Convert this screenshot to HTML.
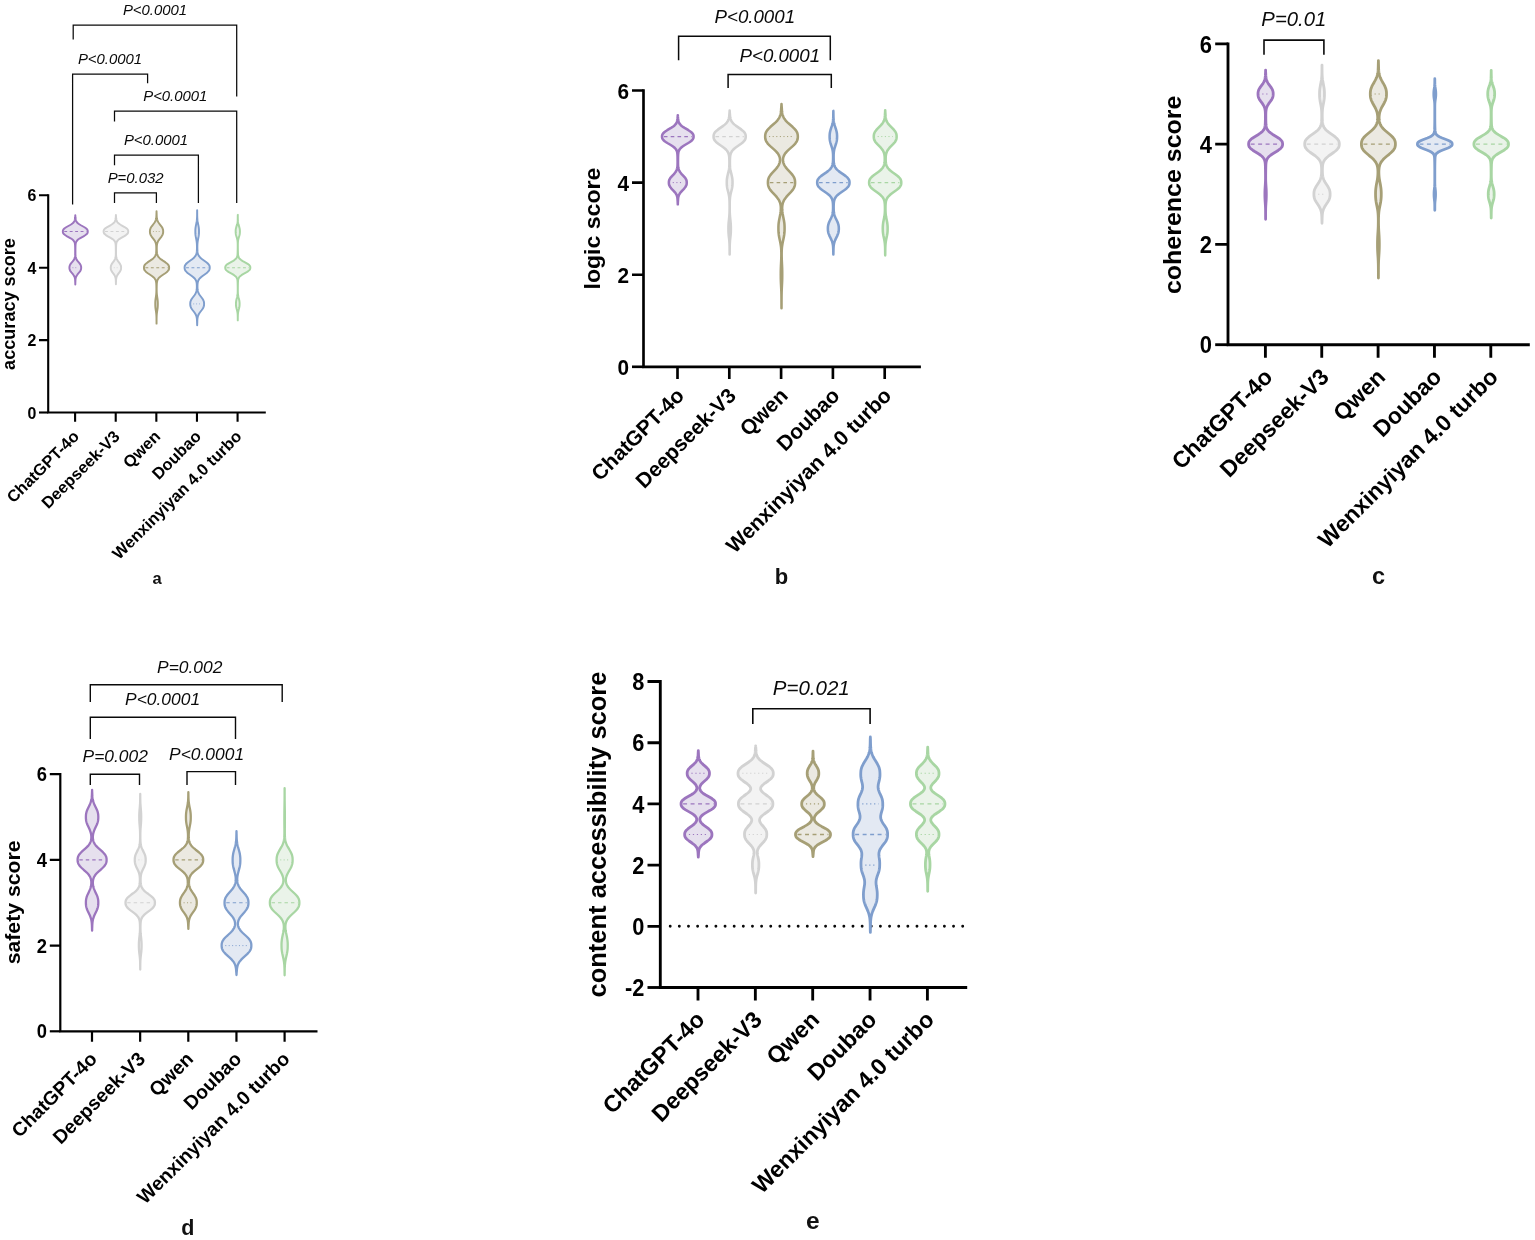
<!DOCTYPE html>
<html lang="en">
<head>
<meta charset="utf-8">
<title>Violin plots of model scores</title>
<style>
html,body{margin:0;padding:0;background:#fff;}
body{width:1535px;height:1240px;overflow:hidden;}
svg{display:block;font-family:"Liberation Sans",sans-serif;}
</style>
</head>
<body>
<svg width="1535" height="1240" viewBox="0 0 1535 1240">
<rect width="1535" height="1240" fill="#fff"/>
<g>
<path d="M75.3 284.5 75.32 283.49 75.35 282.49 75.4 281.48 75.44 280.48 75.51 279.48 75.64 278.47 75.88 277.47 76.26 276.46 76.81 275.46 77.52 274.46 78.35 273.45 79.21 272.45 79.99 271.44 80.59 270.44 80.98 269.43 81.15 268.43 81.17 267.43 81.08 266.42 80.8 265.42 80.29 264.41 79.58 263.41 78.75 262.41 77.89 261.4 77.12 260.4 76.49 259.39 76.04 258.39 75.75 257.38 75.58 256.38 75.49 255.38 75.44 254.37 75.43 253.37 75.42 252.36 75.42 251.36 75.42 250.36 75.43 249.35 75.44 248.35 75.46 247.34 75.49 246.34 75.53 245.33 75.6 244.33 75.75 243.33 76.02 242.32 76.51 241.32 77.29 240.31 78.44 239.31 79.94 238.31 81.69 237.3 83.51 236.3 85.18 235.29 86.49 234.29 87.34 233.28 87.72 232.28 87.77 231.28 87.6 230.27 87.02 229.27 85.96 228.26 84.47 227.26 82.7 226.26 80.89 225.25 79.23 224.25 77.88 223.24 76.9 222.24 76.25 221.23 75.87 220.23 75.66 219.23 75.55 218.22 75.43 217.22 75.35 216.21 75.3 215.21 L75.3 215.21 75.25 216.21 75.17 217.22 75.05 218.22 74.94 219.23 74.73 220.23 74.35 221.23 73.7 222.24 72.72 223.24 71.37 224.25 69.71 225.25 67.9 226.26 66.13 227.26 64.64 228.26 63.58 229.27 63 230.27 62.83 231.28 62.88 232.28 63.26 233.28 64.11 234.29 65.42 235.29 67.09 236.3 68.91 237.3 70.66 238.31 72.16 239.31 73.31 240.31 74.09 241.32 74.58 242.32 74.85 243.33 75 244.33 75.07 245.33 75.11 246.34 75.14 247.34 75.16 248.35 75.17 249.35 75.18 250.36 75.18 251.36 75.18 252.36 75.17 253.37 75.16 254.37 75.11 255.38 75.02 256.38 74.85 257.38 74.56 258.39 74.11 259.39 73.48 260.4 72.71 261.4 71.85 262.41 71.02 263.41 70.31 264.41 69.8 265.42 69.52 266.42 69.43 267.43 69.45 268.43 69.62 269.43 70.01 270.44 70.61 271.44 71.39 272.45 72.25 273.45 73.08 274.46 73.79 275.46 74.34 276.46 74.72 277.47 74.96 278.47 75.09 279.48 75.16 280.48 75.2 281.48 75.25 282.49 75.28 283.49 75.3 284.5Z" fill="#e6e0ee" stroke="#9c75be" stroke-width="1.95" stroke-linejoin="round"/>
<line x1="64.28" y1="231.5" x2="86.32" y2="231.5" stroke="#9c75be" stroke-width="1.04" stroke-dasharray="2.88 2.56"/>
<line x1="72.48" y1="267.7" x2="78.12" y2="267.7" stroke="#9c75be" stroke-width="0.8" stroke-dasharray="0.88 2"/>
<path d="M115.92 284.17 115.94 283.17 115.97 282.17 116.02 281.16 116.06 280.16 116.13 279.16 116.27 278.16 116.51 277.16 116.88 276.15 117.41 275.15 118.07 274.15 118.82 273.15 119.56 272.15 120.22 271.14 120.7 270.14 120.99 269.14 121.09 268.14 121.08 267.14 120.96 266.13 120.65 265.13 120.14 264.13 119.48 263.13 118.73 262.13 117.99 261.12 117.34 260.12 116.83 259.12 116.48 258.12 116.26 257.12 116.14 256.11 116.07 255.11 116.04 254.11 116.03 253.11 116.03 252.11 116.03 251.1 116.04 250.1 116.05 249.1 116.06 248.1 116.08 247.09 116.11 246.09 116.15 245.09 116.24 244.09 116.4 243.09 116.7 242.08 117.24 241.08 118.08 240.08 119.29 239.08 120.83 238.08 122.6 237.07 124.39 236.07 125.98 235.07 127.19 234.07 127.93 233.07 128.22 232.06 128.23 231.06 127.99 230.06 127.31 229.06 126.15 228.06 124.6 227.05 122.82 226.05 121.04 225.05 119.46 224.05 118.21 223.05 117.32 222.04 116.75 221.04 116.42 220.04 116.24 219.04 116.15 218.04 116.04 217.03 115.97 216.03 115.92 215.03 L115.92 215.03 115.87 216.03 115.8 217.03 115.69 218.04 115.6 219.04 115.42 220.04 115.09 221.04 114.52 222.04 113.63 223.05 112.38 224.05 110.8 225.05 109.02 226.05 107.24 227.05 105.69 228.06 104.53 229.06 103.85 230.06 103.61 231.06 103.62 232.06 103.91 233.07 104.65 234.07 105.86 235.07 107.45 236.07 109.24 237.07 111.01 238.08 112.55 239.08 113.76 240.08 114.6 241.08 115.14 242.08 115.44 243.09 115.6 244.09 115.69 245.09 115.73 246.09 115.76 247.09 115.78 248.1 115.79 249.1 115.8 250.1 115.81 251.1 115.81 252.11 115.81 253.11 115.8 254.11 115.77 255.11 115.7 256.11 115.58 257.12 115.36 258.12 115.01 259.12 114.5 260.12 113.85 261.12 113.11 262.13 112.36 263.13 111.7 264.13 111.19 265.13 110.88 266.13 110.76 267.14 110.75 268.14 110.85 269.14 111.14 270.14 111.62 271.14 112.28 272.15 113.02 273.15 113.77 274.15 114.43 275.15 114.96 276.15 115.33 277.16 115.57 278.16 115.71 279.16 115.78 280.16 115.82 281.16 115.87 282.17 115.9 283.17 115.92 284.17Z" fill="#f3f3f3" stroke="#d2d2d2" stroke-width="1.95" stroke-linejoin="round"/>
<line x1="105.05" y1="231.5" x2="126.79" y2="231.5" stroke="#d2d2d2" stroke-width="1.04" stroke-dasharray="2.88 2.56"/>
<line x1="113.8" y1="267.7" x2="118.04" y2="267.7" stroke="#d2d2d2" stroke-width="0.8" stroke-dasharray="0.88 2"/>
<path d="M156.54 323.63 156.55 322.63 156.55 321.62 156.56 320.62 156.57 319.61 156.58 318.61 156.6 317.61 156.63 316.6 156.67 315.6 156.74 314.6 156.83 313.59 156.95 312.59 157.09 311.59 157.24 310.58 157.4 309.58 157.54 308.58 157.65 307.57 157.74 306.57 157.79 305.56 157.81 304.56 157.81 303.56 157.8 302.55 157.76 301.55 157.69 300.55 157.59 299.54 157.46 298.54 157.31 297.54 157.16 296.53 157.02 295.53 156.9 294.53 156.81 293.52 156.74 292.52 156.7 291.51 156.68 290.51 156.67 289.51 156.67 288.5 156.69 287.5 156.7 286.5 156.73 285.49 156.76 284.49 156.82 283.49 156.92 282.48 157.09 281.48 157.37 280.48 157.81 279.47 158.46 278.47 159.36 277.46 160.51 276.46 161.88 275.46 163.37 274.45 164.89 273.45 166.29 272.45 167.46 271.44 168.33 270.44 168.86 269.44 169.08 268.43 169.11 267.43 168.99 266.42 168.61 265.42 167.9 264.42 166.87 263.41 165.56 262.41 164.08 261.41 162.56 260.4 161.13 259.4 159.87 258.4 158.86 257.39 158.1 256.39 157.57 255.39 157.23 254.38 157.02 253.38 156.9 252.37 156.84 251.37 156.8 250.37 156.78 249.36 156.78 248.36 156.79 247.36 156.83 246.35 156.9 245.35 157.03 244.35 157.24 243.34 157.57 242.34 158.02 241.34 158.61 240.33 159.32 239.33 160.1 238.32 160.9 237.32 161.64 236.32 162.26 235.31 162.73 234.31 163.02 233.31 163.15 232.3 163.16 231.3 163.11 230.3 162.92 229.29 162.55 228.29 162.02 227.29 161.34 226.28 160.56 225.28 159.76 224.27 159 223.27 158.33 222.27 157.78 221.26 157.37 220.26 157.08 219.26 156.89 218.25 156.78 217.25 156.71 216.25 156.67 215.24 156.64 214.24 156.6 213.24 156.56 212.23 156.54 211.23 L156.54 211.23 156.52 212.23 156.48 213.24 156.44 214.24 156.41 215.24 156.37 216.25 156.3 217.25 156.19 218.25 156 219.26 155.71 220.26 155.3 221.26 154.75 222.27 154.08 223.27 153.32 224.27 152.52 225.28 151.74 226.28 151.06 227.29 150.53 228.29 150.16 229.29 149.97 230.3 149.92 231.3 149.93 232.3 150.06 233.31 150.35 234.31 150.82 235.31 151.44 236.32 152.18 237.32 152.98 238.32 153.76 239.33 154.47 240.33 155.06 241.34 155.51 242.34 155.84 243.34 156.05 244.35 156.18 245.35 156.25 246.35 156.29 247.36 156.3 248.36 156.3 249.36 156.28 250.37 156.24 251.37 156.18 252.37 156.06 253.38 155.85 254.38 155.51 255.39 154.98 256.39 154.22 257.39 153.21 258.4 151.95 259.4 150.52 260.4 149 261.41 147.52 262.41 146.21 263.41 145.18 264.42 144.47 265.42 144.09 266.42 143.97 267.43 144 268.43 144.22 269.44 144.75 270.44 145.62 271.44 146.79 272.45 148.19 273.45 149.71 274.45 151.2 275.46 152.57 276.46 153.72 277.46 154.62 278.47 155.27 279.47 155.71 280.48 155.99 281.48 156.16 282.48 156.26 283.49 156.32 284.49 156.35 285.49 156.38 286.5 156.39 287.5 156.41 288.5 156.41 289.51 156.4 290.51 156.38 291.51 156.34 292.52 156.27 293.52 156.18 294.53 156.06 295.53 155.92 296.53 155.77 297.54 155.62 298.54 155.49 299.54 155.39 300.55 155.32 301.55 155.28 302.55 155.27 303.56 155.27 304.56 155.29 305.56 155.34 306.57 155.43 307.57 155.54 308.58 155.68 309.58 155.84 310.58 155.99 311.59 156.13 312.59 156.25 313.59 156.34 314.6 156.41 315.6 156.45 316.6 156.48 317.61 156.5 318.61 156.51 319.61 156.52 320.62 156.53 321.62 156.53 322.63 156.54 323.63Z" fill="#ebe9e1" stroke="#a69f76" stroke-width="1.95" stroke-linejoin="round"/>
<line x1="145.42" y1="267.7" x2="167.66" y2="267.7" stroke="#a69f76" stroke-width="1.04" stroke-dasharray="2.88 2.56"/>
<line x1="152.97" y1="231.5" x2="160.11" y2="231.5" stroke="#a69f76" stroke-width="0.8" stroke-dasharray="0.88 2"/>
<path d="M197.16 325.26 197.19 324.26 197.22 323.26 197.27 322.25 197.29 321.25 197.33 320.25 197.4 319.25 197.5 318.25 197.67 317.25 197.92 316.25 198.28 315.25 198.75 314.25 199.35 313.25 200.05 312.24 200.82 311.24 201.6 310.24 202.34 309.24 202.98 308.24 203.48 307.24 203.83 306.24 204.02 305.24 204.08 304.24 204.07 303.24 203.98 302.23 203.74 301.23 203.35 300.23 202.8 299.23 202.13 298.23 201.37 297.23 200.6 296.23 199.85 295.23 199.19 294.23 198.64 293.23 198.22 292.22 197.91 291.22 197.7 290.22 197.58 289.22 197.51 288.22 197.47 287.22 197.47 286.22 197.49 285.22 197.54 284.22 197.64 283.22 197.8 282.21 198.08 281.21 198.5 280.21 199.11 279.21 199.93 278.21 200.98 277.21 202.22 276.21 203.59 275.21 205.01 274.21 206.37 273.21 207.57 272.2 208.52 271.2 209.2 270.2 209.58 269.2 209.73 268.2 209.72 267.2 209.58 266.2 209.19 265.2 208.52 264.2 207.56 263.2 206.36 262.19 205 261.19 203.58 260.19 202.2 259.19 200.96 258.19 199.91 257.19 199.08 256.19 198.46 255.19 198.04 254.19 197.76 253.19 197.58 252.18 197.48 251.18 197.42 250.18 197.38 249.18 197.36 248.18 197.35 247.18 197.35 246.18 197.38 245.18 197.42 244.18 197.49 243.18 197.6 242.17 197.73 241.17 197.9 240.17 198.09 239.17 198.29 238.17 198.48 237.17 198.66 236.17 198.8 235.17 198.9 234.17 198.96 233.17 198.98 232.16 198.98 231.16 198.97 230.16 198.92 229.16 198.82 228.16 198.69 227.16 198.52 226.16 198.33 225.16 198.12 224.16 197.92 223.16 197.74 222.15 197.58 221.15 197.45 220.15 197.36 219.15 197.29 218.15 197.25 217.15 197.22 216.15 197.2 215.15 197.19 214.15 197.19 213.15 197.18 212.14 197.17 211.14 197.16 210.14 L197.16 210.14 197.15 211.14 197.14 212.14 197.13 213.15 197.13 214.15 197.12 215.15 197.1 216.15 197.07 217.15 197.03 218.15 196.96 219.15 196.87 220.15 196.74 221.15 196.58 222.15 196.4 223.16 196.2 224.16 195.99 225.16 195.8 226.16 195.63 227.16 195.5 228.16 195.4 229.16 195.35 230.16 195.34 231.16 195.34 232.16 195.36 233.17 195.42 234.17 195.52 235.17 195.66 236.17 195.84 237.17 196.03 238.17 196.23 239.17 196.42 240.17 196.59 241.17 196.72 242.17 196.83 243.18 196.9 244.18 196.94 245.18 196.97 246.18 196.97 247.18 196.96 248.18 196.94 249.18 196.9 250.18 196.84 251.18 196.74 252.18 196.56 253.19 196.28 254.19 195.86 255.19 195.24 256.19 194.41 257.19 193.36 258.19 192.12 259.19 190.74 260.19 189.32 261.19 187.96 262.19 186.76 263.2 185.8 264.2 185.13 265.2 184.74 266.2 184.6 267.2 184.59 268.2 184.74 269.2 185.12 270.2 185.8 271.2 186.75 272.2 187.95 273.21 189.31 274.21 190.73 275.21 192.1 276.21 193.34 277.21 194.39 278.21 195.21 279.21 195.82 280.21 196.24 281.21 196.52 282.21 196.68 283.22 196.78 284.22 196.83 285.22 196.85 286.22 196.85 287.22 196.81 288.22 196.74 289.22 196.62 290.22 196.41 291.22 196.1 292.22 195.68 293.23 195.13 294.23 194.47 295.23 193.72 296.23 192.95 297.23 192.19 298.23 191.52 299.23 190.97 300.23 190.58 301.23 190.34 302.23 190.25 303.24 190.24 304.24 190.3 305.24 190.49 306.24 190.84 307.24 191.34 308.24 191.98 309.24 192.72 310.24 193.5 311.24 194.27 312.24 194.97 313.25 195.57 314.25 196.04 315.25 196.4 316.25 196.65 317.25 196.82 318.25 196.92 319.25 196.99 320.25 197.03 321.25 197.05 322.25 197.1 323.26 197.13 324.26 197.16 325.26Z" fill="#e3e9f3" stroke="#7f9ecd" stroke-width="1.95" stroke-linejoin="round"/>
<line x1="186.04" y1="267.7" x2="208.28" y2="267.7" stroke="#7f9ecd" stroke-width="1.04" stroke-dasharray="2.88 2.56"/>
<line x1="193.29" y1="303.9" x2="201.03" y2="303.9" stroke="#7f9ecd" stroke-width="0.8" stroke-dasharray="0.88 2"/>
<path d="M237.78 320.37 237.79 319.37 237.8 318.36 237.81 317.36 237.83 316.35 237.86 315.35 237.91 314.34 237.99 313.34 238.13 312.33 238.32 311.33 238.55 310.32 238.82 309.32 239.08 308.31 239.31 307.31 239.47 306.3 239.57 305.3 239.6 304.29 239.6 303.29 239.55 302.28 239.44 301.28 239.26 300.27 239.03 299.27 238.76 298.26 238.5 297.26 238.28 296.25 238.1 295.25 237.98 294.24 237.91 293.24 237.87 292.23 237.85 291.23 237.84 290.22 237.85 289.22 237.85 288.21 237.86 287.21 237.87 286.2 237.89 285.2 237.91 284.19 237.93 283.19 237.97 282.18 238.02 281.18 238.12 280.17 238.31 279.17 238.65 278.16 239.25 277.16 240.17 276.15 241.46 275.15 243.08 274.14 244.9 273.14 246.7 272.13 248.27 271.13 249.43 270.12 250.1 269.12 250.34 268.11 250.33 267.11 250.02 266.1 249.26 265.1 248.02 264.09 246.39 263.09 244.57 262.08 242.77 261.08 241.2 260.07 239.98 259.07 239.12 258.06 238.58 257.06 238.26 256.05 238.1 255.05 238.01 254.04 237.96 253.04 237.93 252.03 237.91 251.03 237.89 250.02 237.87 249.02 237.86 248.01 237.85 247.01 237.85 246 237.85 245 237.86 243.99 237.89 242.99 237.94 241.98 238.04 240.98 238.19 239.97 238.4 238.97 238.67 237.96 238.98 236.96 239.28 235.95 239.55 234.95 239.75 233.94 239.86 232.94 239.9 231.93 239.9 230.93 239.85 229.92 239.72 228.92 239.51 227.91 239.24 226.91 238.93 225.9 238.63 224.9 238.36 223.89 238.15 222.89 238.01 221.88 237.92 220.88 237.86 219.87 237.83 218.87 237.82 217.86 237.8 216.86 237.79 215.85 237.78 214.85 L237.78 214.85 237.77 215.85 237.76 216.86 237.74 217.86 237.73 218.87 237.7 219.87 237.64 220.88 237.55 221.88 237.41 222.89 237.2 223.89 236.93 224.9 236.63 225.9 236.32 226.91 236.05 227.91 235.84 228.92 235.71 229.92 235.66 230.93 235.66 231.93 235.7 232.94 235.81 233.94 236.01 234.95 236.28 235.95 236.58 236.96 236.89 237.96 237.16 238.97 237.37 239.97 237.52 240.98 237.62 241.98 237.67 242.99 237.7 243.99 237.71 245 237.71 246 237.71 247.01 237.7 248.01 237.69 249.02 237.67 250.02 237.65 251.03 237.63 252.03 237.6 253.04 237.55 254.04 237.46 255.05 237.3 256.05 236.98 257.06 236.44 258.06 235.58 259.07 234.36 260.07 232.79 261.08 230.99 262.08 229.17 263.09 227.54 264.09 226.3 265.1 225.54 266.1 225.23 267.11 225.22 268.11 225.46 269.12 226.13 270.12 227.29 271.13 228.86 272.13 230.66 273.14 232.48 274.14 234.1 275.15 235.39 276.15 236.31 277.16 236.91 278.16 237.25 279.17 237.44 280.17 237.54 281.18 237.59 282.18 237.63 283.19 237.65 284.19 237.67 285.2 237.69 286.2 237.7 287.21 237.71 288.21 237.71 289.22 237.72 290.22 237.71 291.23 237.69 292.23 237.65 293.24 237.58 294.24 237.46 295.25 237.28 296.25 237.06 297.26 236.8 298.26 236.53 299.27 236.3 300.27 236.12 301.28 236.01 302.28 235.96 303.29 235.96 304.29 235.99 305.3 236.09 306.3 236.25 307.31 236.48 308.31 236.74 309.32 237.01 310.32 237.24 311.33 237.43 312.33 237.57 313.34 237.65 314.34 237.7 315.35 237.73 316.35 237.75 317.36 237.76 318.36 237.77 319.37 237.78 320.37Z" fill="#eaf3e9" stroke="#a8d6a3" stroke-width="1.95" stroke-linejoin="round"/>
<line x1="226.66" y1="267.7" x2="248.9" y2="267.7" stroke="#a8d6a3" stroke-width="1.04" stroke-dasharray="2.88 2.56"/>
<path d="M48.2 194.25 V412.5 H265.8" fill="none" stroke="#000" stroke-width="2.1" stroke-linejoin="miter"/>
<path d="M39 412.5 H48.2" fill="none" stroke="#000" stroke-width="2.1"/>
<text transform="translate(36.4 418.51) scale(0.95 1)" font-size="16.8" font-weight="bold" text-anchor="end">0</text>
<text transform="translate(36.4 346.11) scale(0.95 1)" font-size="16.8" font-weight="bold" text-anchor="end">2</text>
<text transform="translate(36.4 273.71) scale(0.95 1)" font-size="16.8" font-weight="bold" text-anchor="end">4</text>
<text transform="translate(36.4 201.31) scale(0.95 1)" font-size="16.8" font-weight="bold" text-anchor="end">6</text>
<path d="M39 340.1H48.2M39 267.7H48.2M39 195.3H48.2" fill="none" stroke="#000" stroke-width="2.1"/>
<text transform="translate(80.2 437.5) rotate(-44.8)" font-size="16.45" font-weight="bold" text-anchor="end">ChatGPT-4o</text>
<text transform="translate(120.82 437.5) rotate(-44.8)" font-size="16.45" font-weight="bold" text-anchor="end">Deepseek-V3</text>
<text transform="translate(161.44 437.5) rotate(-44.8)" font-size="16.45" font-weight="bold" text-anchor="end">Qwen</text>
<text transform="translate(202.06 437.5) rotate(-44.8)" font-size="16.45" font-weight="bold" text-anchor="end">Doubao</text>
<text transform="translate(242.68 437.5) rotate(-44.8)" font-size="16.45" font-weight="bold" text-anchor="end">Wenxinyiyan 4.0 turbo</text>
<path d="M75.1 412.5V421.7M115.72 412.5V421.7M156.34 412.5V421.7M196.96 412.5V421.7M237.58 412.5V421.7" fill="none" stroke="#000" stroke-width="2.1"/>
<text transform="translate(15.3 304) rotate(-90) scale(1 1)" font-size="18.1" font-weight="bold" text-anchor="middle">accuracy score</text>
<text x="157" y="583.9" font-size="16.5" font-weight="bold" text-anchor="middle" fill="#111">a</text>
<path d="M73.2 39.4 V25.2 H236.7 V96.5" fill="none" stroke="#0a0a0a" stroke-width="1.25"/>
<text x="155" y="15.3" font-size="14.9" font-style="italic" text-anchor="middle" fill="#0a0a0a">P&lt;0.0001</text>
<path d="M72.6 204.4 V74 H147.6 V83.2" fill="none" stroke="#0a0a0a" stroke-width="1.25"/>
<text x="110" y="64.2" font-size="14.9" font-style="italic" text-anchor="middle" fill="#0a0a0a">P&lt;0.0001</text>
<path d="M114.5 121.6 V111.1 H236.7 V203" fill="none" stroke="#0a0a0a" stroke-width="1.25"/>
<text x="175.3" y="101.3" font-size="14.9" font-style="italic" text-anchor="middle" fill="#0a0a0a">P&lt;0.0001</text>
<path d="M114.5 165.2 V155.2 H198.4 V203" fill="none" stroke="#0a0a0a" stroke-width="1.25"/>
<text x="156" y="145.3" font-size="14.9" font-style="italic" text-anchor="middle" fill="#0a0a0a">P&lt;0.0001</text>
<path d="M114.5 203 V192.9 H156.4 V203" fill="none" stroke="#0a0a0a" stroke-width="1.25"/>
<text x="135.6" y="182.8" font-size="14.9" font-style="italic" text-anchor="middle" fill="#0a0a0a">P=0.032</text>
</g>
<g>
<path d="M677.8 204.34 677.83 203.33 677.87 202.33 677.92 201.33 677.99 200.33 678.05 199.33 678.14 198.33 678.29 197.32 678.52 196.32 678.86 195.32 679.32 194.32 679.93 193.32 680.68 192.31 681.55 191.31 682.49 190.31 683.46 189.31 684.38 188.31 685.19 187.31 685.84 186.3 686.31 185.3 686.59 184.3 686.71 183.3 686.72 182.3 686.66 181.3 686.44 180.29 686.05 179.29 685.47 178.29 684.72 177.29 683.83 176.29 682.88 175.29 681.92 174.28 681.02 173.28 680.22 172.28 679.56 171.28 679.05 170.28 678.67 169.28 678.4 168.27 678.23 167.27 678.12 166.27 678.06 165.27 678.03 164.27 678.01 163.27 678 162.26 678 161.26 678.01 160.26 678.01 159.26 678.03 158.26 678.04 157.25 678.07 156.25 678.11 155.25 678.17 154.25 678.27 153.25 678.43 152.25 678.7 151.24 679.1 150.24 679.7 149.24 680.53 148.24 681.61 147.24 682.93 146.24 684.47 145.23 686.14 144.23 687.85 143.23 689.47 142.23 690.9 141.23 692.04 140.23 692.86 139.22 693.35 138.22 693.55 137.22 693.57 136.22 693.45 135.22 693.06 134.22 692.36 133.21 691.32 132.21 689.98 131.21 688.41 130.21 686.72 129.21 685.02 128.21 683.43 127.2 682.02 126.2 680.85 125.2 679.94 124.2 679.27 123.2 678.8 122.19 678.49 121.19 678.29 120.19 678.16 119.19 678.03 118.19 677.93 117.19 677.85 116.18 677.8 115.18 L677.8 115.18 677.75 116.18 677.67 117.19 677.57 118.19 677.44 119.19 677.31 120.19 677.11 121.19 676.8 122.19 676.33 123.2 675.66 124.2 674.75 125.2 673.58 126.2 672.17 127.2 670.58 128.21 668.88 129.21 667.19 130.21 665.62 131.21 664.28 132.21 663.24 133.21 662.54 134.22 662.15 135.22 662.03 136.22 662.05 137.22 662.25 138.22 662.74 139.22 663.56 140.23 664.7 141.23 666.13 142.23 667.75 143.23 669.46 144.23 671.13 145.23 672.67 146.24 673.99 147.24 675.07 148.24 675.9 149.24 676.5 150.24 676.9 151.24 677.17 152.25 677.33 153.25 677.43 154.25 677.49 155.25 677.53 156.25 677.56 157.25 677.57 158.26 677.59 159.26 677.59 160.26 677.6 161.26 677.6 162.26 677.59 163.27 677.57 164.27 677.54 165.27 677.48 166.27 677.37 167.27 677.2 168.27 676.93 169.28 676.55 170.28 676.04 171.28 675.38 172.28 674.58 173.28 673.68 174.28 672.72 175.29 671.77 176.29 670.88 177.29 670.13 178.29 669.55 179.29 669.16 180.29 668.94 181.3 668.88 182.3 668.89 183.3 669.01 184.3 669.29 185.3 669.76 186.3 670.41 187.31 671.22 188.31 672.14 189.31 673.11 190.31 674.05 191.31 674.92 192.31 675.67 193.32 676.28 194.32 676.74 195.32 677.08 196.32 677.31 197.32 677.46 198.33 677.55 199.33 677.61 200.33 677.68 201.33 677.73 202.33 677.77 203.33 677.8 204.34Z" fill="#e6e0ee" stroke="#9c75be" stroke-width="2.55" stroke-linejoin="round"/>
<line x1="663.9" y1="136.55" x2="691.7" y2="136.55" stroke="#9c75be" stroke-width="1.3" stroke-dasharray="3.6 3.2"/>
<line x1="672.75" y1="182.6" x2="682.85" y2="182.6" stroke="#9c75be" stroke-width="1" stroke-dasharray="1.1 2.5"/>
<path d="M729.65 254.44 729.65 253.43 729.66 252.43 729.67 251.42 729.67 250.41 729.68 249.41 729.69 248.4 729.7 247.39 729.72 246.39 729.74 245.38 729.78 244.37 729.82 243.37 729.88 242.36 729.96 241.36 730.04 240.35 730.14 239.34 730.25 238.34 730.36 237.33 730.47 236.32 730.57 235.32 730.66 234.31 730.74 233.3 730.8 232.3 730.84 231.29 730.86 230.29 730.87 229.28 730.87 228.27 730.87 227.27 730.85 226.26 730.81 225.25 730.76 224.25 730.69 223.24 730.6 222.24 730.5 221.23 730.39 220.22 730.28 219.22 730.18 218.21 730.08 217.2 729.99 216.2 729.91 215.19 729.85 214.18 729.8 213.18 729.77 212.17 729.74 211.17 729.73 210.16 729.72 209.15 729.71 208.15 729.71 207.14 729.71 206.13 729.72 205.13 729.72 204.12 729.74 203.11 729.75 202.11 729.78 201.1 729.83 200.1 729.89 199.09 729.98 198.08 730.09 197.08 730.24 196.07 730.42 195.06 730.63 194.06 730.86 193.05 731.12 192.05 731.37 191.04 731.63 190.03 731.87 189.03 732.07 188.02 732.24 187.01 732.37 186.01 732.46 185 732.51 183.99 732.52 182.99 732.52 181.98 732.5 180.98 732.45 179.97 732.36 178.96 732.22 177.96 732.05 176.95 731.84 175.94 731.6 174.94 731.35 173.93 731.09 172.92 730.85 171.92 730.63 170.91 730.43 169.91 730.27 168.9 730.14 167.89 730.05 166.89 729.98 165.88 729.93 164.87 729.91 163.87 729.9 162.86 729.9 161.85 729.91 160.85 729.94 159.84 729.97 158.84 730.02 157.83 730.11 156.82 730.23 155.82 730.42 154.81 730.69 153.8 731.07 152.8 731.6 151.79 732.29 150.79 733.15 149.78 734.2 148.77 735.42 147.77 736.77 146.76 738.2 145.75 739.65 144.75 741.06 143.74 742.35 142.73 743.46 141.73 744.36 140.72 745.02 139.72 745.45 138.71 745.67 137.7 745.72 136.7 745.7 135.69 745.53 134.68 745.17 133.68 744.58 132.67 743.75 131.66 742.69 130.66 741.44 129.65 740.07 128.65 738.62 127.64 737.17 126.63 735.79 125.63 734.53 124.62 733.43 123.61 732.51 122.61 731.76 121.6 731.19 120.6 730.77 119.59 730.46 118.58 730.25 117.58 730.11 116.57 730.01 115.56 729.95 114.56 729.85 113.55 729.77 112.54 729.7 111.54 729.65 110.53 L729.65 110.53 729.6 111.54 729.53 112.54 729.45 113.55 729.35 114.56 729.29 115.56 729.19 116.57 729.05 117.58 728.84 118.58 728.53 119.59 728.11 120.6 727.54 121.6 726.79 122.61 725.87 123.61 724.77 124.62 723.51 125.63 722.13 126.63 720.68 127.64 719.23 128.65 717.86 129.65 716.61 130.66 715.55 131.66 714.72 132.67 714.13 133.68 713.77 134.68 713.6 135.69 713.58 136.7 713.63 137.7 713.85 138.71 714.28 139.72 714.94 140.72 715.84 141.73 716.95 142.73 718.24 143.74 719.65 144.75 721.1 145.75 722.53 146.76 723.88 147.77 725.1 148.77 726.15 149.78 727.01 150.79 727.7 151.79 728.23 152.8 728.61 153.8 728.88 154.81 729.07 155.82 729.19 156.82 729.28 157.83 729.33 158.84 729.36 159.84 729.39 160.85 729.4 161.85 729.4 162.86 729.39 163.87 729.37 164.87 729.32 165.88 729.25 166.89 729.16 167.89 729.03 168.9 728.87 169.91 728.67 170.91 728.45 171.92 728.21 172.92 727.95 173.93 727.7 174.94 727.46 175.94 727.25 176.95 727.08 177.96 726.94 178.96 726.85 179.97 726.8 180.98 726.78 181.98 726.78 182.99 726.79 183.99 726.84 185 726.93 186.01 727.06 187.01 727.23 188.02 727.43 189.03 727.67 190.03 727.93 191.04 728.18 192.05 728.44 193.05 728.67 194.06 728.88 195.06 729.06 196.07 729.21 197.08 729.32 198.08 729.41 199.09 729.47 200.1 729.52 201.1 729.55 202.11 729.56 203.11 729.58 204.12 729.58 205.13 729.59 206.13 729.59 207.14 729.59 208.15 729.58 209.15 729.57 210.16 729.56 211.17 729.53 212.17 729.5 213.18 729.45 214.18 729.39 215.19 729.31 216.2 729.22 217.2 729.12 218.21 729.02 219.22 728.91 220.22 728.8 221.23 728.7 222.24 728.61 223.24 728.54 224.25 728.49 225.25 728.45 226.26 728.43 227.27 728.43 228.27 728.43 229.28 728.44 230.29 728.46 231.29 728.5 232.3 728.56 233.3 728.64 234.31 728.73 235.32 728.83 236.32 728.94 237.33 729.05 238.34 729.16 239.34 729.26 240.35 729.34 241.36 729.42 242.36 729.48 243.37 729.52 244.37 729.56 245.38 729.58 246.39 729.6 247.39 729.61 248.4 729.62 249.41 729.63 250.41 729.63 251.42 729.64 252.43 729.65 253.43 729.65 254.44Z" fill="#f3f3f3" stroke="#d2d2d2" stroke-width="2.55" stroke-linejoin="round"/>
<line x1="715.45" y1="136.55" x2="743.85" y2="136.55" stroke="#d2d2d2" stroke-width="1.3" stroke-dasharray="3.6 3.2"/>
<path d="M781.5 308.32 781.5 307.32 781.5 306.31 781.51 305.31 781.51 304.31 781.51 303.31 781.51 302.31 781.52 301.31 781.52 300.31 781.52 299.3 781.53 298.3 781.54 297.3 781.55 296.3 781.57 295.3 781.58 294.3 781.61 293.3 781.63 292.29 781.67 291.29 781.7 290.29 781.75 289.29 781.79 288.29 781.84 287.29 781.89 286.29 781.94 285.29 781.99 284.28 782.04 283.28 782.08 282.28 782.12 281.28 782.15 280.28 782.18 279.28 782.2 278.28 782.21 277.27 782.22 276.27 782.22 275.27 782.23 274.27 782.22 273.27 782.22 272.27 782.21 271.27 782.19 270.26 782.17 269.26 782.14 268.26 782.1 267.26 782.06 266.26 782.02 265.26 781.97 264.26 781.92 263.26 781.88 262.25 781.83 261.25 781.79 260.25 781.75 259.25 781.72 258.25 781.69 257.25 781.67 256.25 781.66 255.24 781.65 254.24 781.66 253.24 781.67 252.24 781.7 251.24 781.74 250.24 781.8 249.24 781.87 248.23 781.97 247.23 782.08 246.23 782.22 245.23 782.38 244.23 782.55 243.23 782.75 242.23 782.95 241.23 783.17 240.22 783.38 239.22 783.59 238.22 783.79 237.22 783.97 236.22 784.13 235.22 784.27 234.22 784.38 233.21 784.47 232.21 784.52 231.21 784.56 230.21 784.57 229.21 784.58 228.21 784.57 227.21 784.55 226.2 784.5 225.2 784.43 224.2 784.33 223.2 784.21 222.2 784.06 221.2 783.89 220.2 783.7 219.2 783.5 218.19 783.3 217.19 783.1 216.19 782.91 215.19 782.73 214.19 782.56 213.19 782.43 212.19 782.31 211.18 782.23 210.18 782.18 209.18 782.16 208.18 782.19 207.18 782.26 206.18 782.38 205.18 782.57 204.17 782.82 203.17 783.15 202.17 783.57 201.17 784.08 200.17 784.69 199.17 785.39 198.17 786.18 197.17 787.04 196.16 787.95 195.16 788.9 194.16 789.86 193.16 790.79 192.16 791.67 191.16 792.48 190.16 793.19 189.15 793.79 188.15 794.27 187.15 794.63 186.15 794.88 185.15 795.01 184.15 795.07 183.15 795.07 182.14 795.03 181.14 794.91 180.14 794.69 179.14 794.35 178.14 793.89 177.14 793.31 176.14 792.62 175.14 791.83 174.13 790.96 173.13 790.04 172.13 789.1 171.13 788.17 170.13 787.26 169.13 786.41 168.13 785.64 167.12 784.95 166.12 784.36 165.12 783.87 164.12 783.49 163.12 783.22 162.12 783.04 161.12 782.97 160.11 783 159.11 783.13 158.11 783.37 157.11 783.73 156.11 784.2 155.11 784.79 154.11 785.5 153.11 786.33 152.1 787.26 151.1 788.29 150.1 789.38 149.1 790.51 148.1 791.65 147.1 792.76 146.1 793.81 145.09 794.78 144.09 795.62 143.09 796.34 142.09 796.91 141.09 797.33 140.09 797.61 139.09 797.77 138.09 797.82 137.08 797.82 136.08 797.76 135.08 797.6 134.08 797.32 133.08 796.9 132.08 796.33 131.08 795.62 130.07 794.77 129.07 793.8 128.07 792.74 127.07 791.62 126.07 790.47 125.07 789.32 124.07 788.21 123.06 787.17 122.06 786.21 121.06 785.35 120.06 784.6 119.06 783.97 118.06 783.44 117.06 783.01 116.06 782.68 115.05 782.42 114.05 782.22 113.05 782.07 112.05 781.96 111.05 781.88 110.05 781.83 109.05 781.78 108.04 781.7 107.04 781.62 106.04 781.55 105.04 781.5 104.04 L781.5 104.04 781.45 105.04 781.38 106.04 781.3 107.04 781.22 108.04 781.17 109.05 781.12 110.05 781.04 111.05 780.93 112.05 780.78 113.05 780.58 114.05 780.32 115.05 779.99 116.06 779.56 117.06 779.03 118.06 778.4 119.06 777.65 120.06 776.79 121.06 775.83 122.06 774.79 123.06 773.68 124.07 772.53 125.07 771.38 126.07 770.26 127.07 769.2 128.07 768.23 129.07 767.38 130.07 766.67 131.08 766.1 132.08 765.68 133.08 765.4 134.08 765.24 135.08 765.18 136.08 765.18 137.08 765.23 138.09 765.39 139.09 765.67 140.09 766.09 141.09 766.66 142.09 767.38 143.09 768.22 144.09 769.19 145.09 770.24 146.1 771.35 147.1 772.49 148.1 773.62 149.1 774.71 150.1 775.74 151.1 776.67 152.1 777.5 153.11 778.21 154.11 778.8 155.11 779.27 156.11 779.63 157.11 779.87 158.11 780 159.11 780.03 160.11 779.96 161.12 779.78 162.12 779.51 163.12 779.13 164.12 778.64 165.12 778.05 166.12 777.36 167.12 776.59 168.13 775.74 169.13 774.83 170.13 773.9 171.13 772.96 172.13 772.04 173.13 771.17 174.13 770.38 175.14 769.69 176.14 769.11 177.14 768.65 178.14 768.31 179.14 768.09 180.14 767.97 181.14 767.93 182.14 767.93 183.15 767.99 184.15 768.12 185.15 768.37 186.15 768.73 187.15 769.21 188.15 769.81 189.15 770.52 190.16 771.33 191.16 772.21 192.16 773.14 193.16 774.1 194.16 775.05 195.16 775.96 196.16 776.82 197.17 777.61 198.17 778.31 199.17 778.92 200.17 779.43 201.17 779.85 202.17 780.18 203.17 780.43 204.17 780.62 205.18 780.74 206.18 780.81 207.18 780.84 208.18 780.82 209.18 780.77 210.18 780.69 211.18 780.57 212.19 780.44 213.19 780.27 214.19 780.09 215.19 779.9 216.19 779.7 217.19 779.5 218.19 779.3 219.2 779.11 220.2 778.94 221.2 778.79 222.2 778.67 223.2 778.57 224.2 778.5 225.2 778.45 226.2 778.43 227.21 778.42 228.21 778.43 229.21 778.44 230.21 778.48 231.21 778.53 232.21 778.62 233.21 778.73 234.22 778.87 235.22 779.03 236.22 779.21 237.22 779.41 238.22 779.62 239.22 779.83 240.22 780.05 241.23 780.25 242.23 780.45 243.23 780.62 244.23 780.78 245.23 780.92 246.23 781.03 247.23 781.13 248.23 781.2 249.24 781.26 250.24 781.3 251.24 781.33 252.24 781.34 253.24 781.35 254.24 781.34 255.24 781.33 256.25 781.31 257.25 781.28 258.25 781.25 259.25 781.21 260.25 781.17 261.25 781.12 262.25 781.08 263.26 781.03 264.26 780.98 265.26 780.94 266.26 780.9 267.26 780.86 268.26 780.83 269.26 780.81 270.26 780.79 271.27 780.78 272.27 780.78 273.27 780.77 274.27 780.78 275.27 780.78 276.27 780.79 277.27 780.8 278.28 780.82 279.28 780.85 280.28 780.88 281.28 780.92 282.28 780.96 283.28 781.01 284.28 781.06 285.29 781.11 286.29 781.16 287.29 781.21 288.29 781.25 289.29 781.3 290.29 781.33 291.29 781.37 292.29 781.39 293.3 781.42 294.3 781.43 295.3 781.45 296.3 781.46 297.3 781.47 298.3 781.48 299.3 781.48 300.31 781.48 301.31 781.49 302.31 781.49 303.31 781.49 304.31 781.49 305.31 781.5 306.31 781.5 307.32 781.5 308.32Z" fill="#ebe9e1" stroke="#a69f76" stroke-width="2.55" stroke-linejoin="round"/>
<line x1="769.8" y1="182.6" x2="793.2" y2="182.6" stroke="#a69f76" stroke-width="1.3" stroke-dasharray="3.6 3.2"/>
<line x1="769.05" y1="136.55" x2="793.95" y2="136.55" stroke="#a69f76" stroke-width="1" stroke-dasharray="1.1 2.5"/>
<path d="M833.35 254.44 833.37 253.43 833.39 252.43 833.42 251.43 833.45 250.42 833.47 249.42 833.51 248.42 833.56 247.41 833.63 246.41 833.74 245.4 833.89 244.4 834.09 243.4 834.35 242.39 834.67 241.39 835.05 240.39 835.49 239.38 835.97 238.38 836.46 237.37 836.96 236.37 837.42 235.37 837.84 234.36 838.19 233.36 838.47 232.36 838.66 231.35 838.77 230.35 838.82 229.34 838.82 228.34 838.8 227.34 838.72 226.33 838.56 225.33 838.32 224.33 838 223.32 837.61 222.32 837.17 221.31 836.68 220.31 836.19 219.31 835.71 218.3 835.27 217.3 834.87 216.3 834.54 215.29 834.26 214.29 834.05 213.28 833.9 212.28 833.79 211.28 833.72 210.27 833.68 209.27 833.66 208.26 833.65 207.26 833.66 206.26 833.69 205.25 833.73 204.25 833.79 203.25 833.89 202.24 834.04 201.24 834.26 200.23 834.59 199.23 835.04 198.23 835.65 197.22 836.44 196.22 837.41 195.22 838.56 194.21 839.86 193.21 841.28 192.2 842.74 191.2 844.2 190.2 845.56 189.19 846.77 188.19 847.78 187.19 848.56 186.18 849.09 185.18 849.4 184.17 849.51 183.17 849.52 182.17 849.42 181.16 849.15 180.16 848.64 179.16 847.9 178.15 846.92 177.15 845.73 176.14 844.39 175.14 842.94 174.14 841.47 173.13 840.05 172.13 838.72 171.13 837.55 170.12 836.55 169.12 835.74 168.11 835.11 167.11 834.63 166.11 834.29 165.1 834.05 164.1 833.89 163.1 833.78 162.09 833.71 161.09 833.67 160.08 833.64 159.08 833.62 158.08 833.61 157.07 833.62 156.07 833.64 155.07 833.68 154.06 833.74 153.06 833.84 152.05 833.98 151.05 834.15 150.05 834.37 149.04 834.63 148.04 834.93 147.04 835.25 146.03 835.58 145.03 835.91 144.02 836.22 143.02 836.49 142.02 836.71 141.01 836.88 140.01 836.99 139.01 837.05 138 837.07 137 837.07 135.99 837.04 134.99 836.97 133.99 836.85 132.98 836.67 131.98 836.44 130.98 836.16 129.97 835.85 128.97 835.51 127.96 835.18 126.96 834.85 125.96 834.55 124.95 834.28 123.95 834.06 122.95 833.88 121.94 833.73 120.94 833.63 119.93 833.55 118.93 833.5 117.93 833.46 116.92 833.44 115.92 833.42 114.92 833.4 113.91 833.38 112.91 833.36 111.9 833.35 110.9 L833.35 110.9 833.34 111.9 833.32 112.91 833.3 113.91 833.28 114.92 833.26 115.92 833.24 116.92 833.2 117.93 833.15 118.93 833.07 119.93 832.97 120.94 832.82 121.94 832.64 122.95 832.42 123.95 832.15 124.95 831.85 125.96 831.52 126.96 831.19 127.96 830.85 128.97 830.54 129.97 830.26 130.98 830.03 131.98 829.85 132.98 829.73 133.99 829.66 134.99 829.63 135.99 829.63 137 829.65 138 829.71 139.01 829.82 140.01 829.99 141.01 830.21 142.02 830.48 143.02 830.79 144.02 831.12 145.03 831.45 146.03 831.77 147.04 832.07 148.04 832.33 149.04 832.55 150.05 832.72 151.05 832.86 152.05 832.96 153.06 833.02 154.06 833.06 155.07 833.08 156.07 833.09 157.07 833.08 158.08 833.06 159.08 833.03 160.08 832.99 161.09 832.92 162.09 832.81 163.1 832.65 164.1 832.41 165.1 832.07 166.11 831.59 167.11 830.96 168.11 830.15 169.12 829.15 170.12 827.98 171.13 826.65 172.13 825.23 173.13 823.76 174.14 822.31 175.14 820.97 176.14 819.78 177.15 818.8 178.15 818.06 179.16 817.55 180.16 817.28 181.16 817.18 182.17 817.19 183.17 817.3 184.17 817.61 185.18 818.14 186.18 818.92 187.19 819.93 188.19 821.14 189.19 822.5 190.2 823.96 191.2 825.42 192.2 826.84 193.21 828.14 194.21 829.29 195.22 830.26 196.22 831.05 197.22 831.66 198.23 832.11 199.23 832.44 200.23 832.66 201.24 832.81 202.24 832.91 203.25 832.97 204.25 833.01 205.25 833.04 206.26 833.05 207.26 833.04 208.26 833.02 209.27 832.98 210.27 832.91 211.28 832.8 212.28 832.65 213.28 832.44 214.29 832.16 215.29 831.83 216.3 831.43 217.3 830.99 218.3 830.51 219.31 830.02 220.31 829.53 221.31 829.09 222.32 828.7 223.32 828.38 224.33 828.14 225.33 827.98 226.33 827.9 227.34 827.88 228.34 827.88 229.34 827.93 230.35 828.04 231.35 828.23 232.36 828.51 233.36 828.86 234.36 829.28 235.37 829.74 236.37 830.24 237.37 830.73 238.38 831.21 239.38 831.65 240.39 832.03 241.39 832.35 242.39 832.61 243.4 832.81 244.4 832.96 245.4 833.07 246.41 833.14 247.41 833.19 248.42 833.23 249.42 833.25 250.42 833.28 251.43 833.31 252.43 833.33 253.43 833.35 254.44Z" fill="#e3e9f3" stroke="#7f9ecd" stroke-width="2.55" stroke-linejoin="round"/>
<line x1="819.05" y1="182.6" x2="847.65" y2="182.6" stroke="#7f9ecd" stroke-width="1.3" stroke-dasharray="3.6 3.2"/>
<path d="M885.2 255.36 885.21 254.36 885.22 253.36 885.23 252.35 885.24 251.35 885.25 250.35 885.27 249.35 885.28 248.35 885.31 247.35 885.35 246.35 885.41 245.35 885.48 244.34 885.58 243.34 885.71 242.34 885.86 241.34 886.03 240.34 886.22 239.34 886.43 238.34 886.64 237.33 886.85 236.33 887.05 235.33 887.22 234.33 887.37 233.33 887.48 232.33 887.56 231.33 887.6 230.33 887.62 229.32 887.63 228.32 887.62 227.32 887.58 226.32 887.52 225.32 887.42 224.32 887.3 223.32 887.14 222.31 886.95 221.31 886.76 220.31 886.55 219.31 886.35 218.31 886.16 217.31 885.98 216.31 885.84 215.31 885.71 214.3 885.62 213.3 885.55 212.3 885.5 211.3 885.47 210.3 885.46 209.3 885.46 208.3 885.47 207.29 885.49 206.29 885.53 205.29 885.58 204.29 885.66 203.29 885.79 202.29 885.97 201.29 886.24 200.28 886.61 199.28 887.11 198.28 887.77 197.28 888.59 196.28 889.59 195.28 890.74 194.28 892.03 193.28 893.41 192.27 894.82 191.27 896.2 190.27 897.5 189.27 898.64 188.27 899.6 187.27 900.33 186.27 900.84 185.26 901.14 184.26 901.26 183.26 901.27 182.26 901.2 181.26 900.96 180.26 900.53 179.26 899.87 178.26 898.98 177.25 897.9 176.25 896.65 175.25 895.29 174.25 893.89 173.25 892.49 172.25 891.18 171.25 889.98 170.24 888.94 169.24 888.06 168.24 887.36 167.24 886.82 166.24 886.42 165.24 886.13 164.24 885.93 163.23 885.8 162.23 885.72 161.23 885.68 160.23 885.66 159.23 885.67 158.23 885.7 157.23 885.77 156.23 885.89 155.22 886.06 154.22 886.31 153.22 886.66 152.22 887.12 151.22 887.69 150.22 888.39 149.22 889.2 148.21 890.11 147.21 891.09 146.21 892.08 145.21 893.06 144.21 893.97 143.21 894.78 142.21 895.45 141.21 895.97 140.2 896.33 139.2 896.53 138.2 896.62 137.2 896.62 136.2 896.57 135.2 896.39 134.2 896.08 133.19 895.61 132.19 894.98 131.19 894.2 130.19 893.31 129.19 892.34 128.19 891.34 127.19 890.35 126.18 889.41 125.18 888.55 124.18 887.81 123.18 887.18 122.18 886.68 121.18 886.29 120.18 886 119.18 885.78 118.17 885.63 117.17 885.53 116.17 885.46 115.17 885.42 114.17 885.35 113.17 885.29 112.17 885.24 111.16 885.2 110.16 L885.2 110.16 885.16 111.16 885.11 112.17 885.05 113.17 884.98 114.17 884.94 115.17 884.87 116.17 884.77 117.17 884.62 118.17 884.4 119.18 884.11 120.18 883.72 121.18 883.22 122.18 882.59 123.18 881.85 124.18 880.99 125.18 880.05 126.18 879.06 127.19 878.06 128.19 877.09 129.19 876.2 130.19 875.42 131.19 874.79 132.19 874.32 133.19 874.01 134.2 873.83 135.2 873.78 136.2 873.78 137.2 873.87 138.2 874.07 139.2 874.43 140.2 874.95 141.21 875.62 142.21 876.43 143.21 877.34 144.21 878.32 145.21 879.31 146.21 880.29 147.21 881.2 148.21 882.01 149.22 882.71 150.22 883.28 151.22 883.74 152.22 884.09 153.22 884.34 154.22 884.51 155.22 884.63 156.23 884.7 157.23 884.73 158.23 884.74 159.23 884.72 160.23 884.68 161.23 884.6 162.23 884.47 163.23 884.27 164.24 883.98 165.24 883.58 166.24 883.04 167.24 882.34 168.24 881.46 169.24 880.42 170.24 879.22 171.25 877.91 172.25 876.51 173.25 875.11 174.25 873.75 175.25 872.5 176.25 871.42 177.25 870.53 178.26 869.87 179.26 869.44 180.26 869.2 181.26 869.13 182.26 869.14 183.26 869.26 184.26 869.56 185.26 870.07 186.27 870.8 187.27 871.76 188.27 872.9 189.27 874.2 190.27 875.58 191.27 876.99 192.27 878.37 193.28 879.66 194.28 880.81 195.28 881.81 196.28 882.63 197.28 883.29 198.28 883.79 199.28 884.16 200.28 884.43 201.29 884.61 202.29 884.74 203.29 884.82 204.29 884.87 205.29 884.91 206.29 884.93 207.29 884.94 208.3 884.94 209.3 884.93 210.3 884.9 211.3 884.85 212.3 884.78 213.3 884.69 214.3 884.56 215.31 884.42 216.31 884.24 217.31 884.05 218.31 883.85 219.31 883.64 220.31 883.45 221.31 883.26 222.31 883.1 223.32 882.98 224.32 882.88 225.32 882.82 226.32 882.78 227.32 882.77 228.32 882.78 229.32 882.8 230.33 882.84 231.33 882.92 232.33 883.03 233.33 883.18 234.33 883.35 235.33 883.55 236.33 883.76 237.33 883.97 238.34 884.18 239.34 884.37 240.34 884.54 241.34 884.69 242.34 884.82 243.34 884.92 244.34 884.99 245.35 885.05 246.35 885.09 247.35 885.12 248.35 885.13 249.35 885.15 250.35 885.16 251.35 885.17 252.35 885.18 253.36 885.19 254.36 885.2 255.36Z" fill="#eaf3e9" stroke="#a8d6a3" stroke-width="2.55" stroke-linejoin="round"/>
<line x1="871" y1="182.6" x2="899.4" y2="182.6" stroke="#a8d6a3" stroke-width="1.3" stroke-dasharray="3.6 3.2"/>
<line x1="877.65" y1="136.55" x2="892.75" y2="136.55" stroke="#a8d6a3" stroke-width="1" stroke-dasharray="1.1 2.5"/>
<path d="M643.5 89.18 V366.8 H920.9" fill="none" stroke="#000" stroke-width="2.65" stroke-linejoin="miter"/>
<path d="M632 366.8 H643.5" fill="none" stroke="#000" stroke-width="2.65"/>
<text transform="translate(629 374.89) scale(0.92 1)" font-size="22.6" font-weight="bold" text-anchor="end">0</text>
<text transform="translate(629 282.79) scale(0.92 1)" font-size="22.6" font-weight="bold" text-anchor="end">2</text>
<text transform="translate(629 190.69) scale(0.92 1)" font-size="22.6" font-weight="bold" text-anchor="end">4</text>
<text transform="translate(629 98.59) scale(0.92 1)" font-size="22.6" font-weight="bold" text-anchor="end">6</text>
<path d="M632 274.7H643.5M632 182.6H643.5M632 90.5H643.5" fill="none" stroke="#000" stroke-width="2.65"/>
<text transform="translate(685.4 396.9) rotate(-44.9)" font-size="21.05" font-weight="bold" text-anchor="end">ChatGPT-4o</text>
<text transform="translate(737.2 396.9) rotate(-44.9)" font-size="21.05" font-weight="bold" text-anchor="end">Deepseek-V3</text>
<text transform="translate(789 396.9) rotate(-44.9)" font-size="21.05" font-weight="bold" text-anchor="end">Qwen</text>
<text transform="translate(840.8 396.9) rotate(-44.9)" font-size="21.05" font-weight="bold" text-anchor="end">Doubao</text>
<text transform="translate(892.6 396.9) rotate(-44.9)" font-size="21.05" font-weight="bold" text-anchor="end">Wenxinyiyan 4.0 turbo</text>
<path d="M677.5 366.8V379.1M729.3 366.8V379.1M781.1 366.8V379.1M832.9 366.8V379.1M884.7 366.8V379.1" fill="none" stroke="#000" stroke-width="2.65"/>
<text transform="translate(600.3 228.6) rotate(-90) scale(1.04 1)" font-size="22.2" font-weight="bold" text-anchor="middle">logic score</text>
<text x="781.5" y="584.3" font-size="22" font-weight="bold" text-anchor="middle" fill="#111">b</text>
<path d="M678.6 60.3 V36.2 H830.3 V60.3" fill="none" stroke="#0a0a0a" stroke-width="1.5"/>
<text x="754.8" y="22.9" font-size="18.7" font-style="italic" text-anchor="middle" fill="#0a0a0a">P&lt;0.0001</text>
<path d="M728.1 88 V74.6 H831.3 V88" fill="none" stroke="#0a0a0a" stroke-width="1.5"/>
<text x="779.8" y="62" font-size="18.7" font-style="italic" text-anchor="middle" fill="#0a0a0a">P&lt;0.0001</text>
</g>
<g>
<path d="M1265.6 219.32 1265.6 218.32 1265.6 217.32 1265.61 216.32 1265.61 215.32 1265.61 214.32 1265.62 213.32 1265.62 212.32 1265.63 211.31 1265.64 210.31 1265.66 209.31 1265.68 208.31 1265.72 207.31 1265.76 206.31 1265.81 205.31 1265.87 204.31 1265.93 203.3 1266 202.3 1266.07 201.3 1266.13 200.3 1266.19 199.3 1266.23 198.3 1266.27 197.3 1266.29 196.29 1266.3 195.29 1266.3 194.29 1266.3 193.29 1266.29 192.29 1266.27 191.29 1266.24 190.29 1266.2 189.29 1266.14 188.28 1266.08 187.28 1266.01 186.28 1265.95 185.28 1265.89 184.28 1265.83 183.28 1265.78 182.28 1265.74 181.27 1265.71 180.27 1265.69 179.27 1265.68 178.27 1265.68 177.27 1265.68 176.27 1265.68 175.27 1265.69 174.27 1265.7 173.26 1265.71 172.26 1265.73 171.26 1265.74 170.26 1265.76 169.26 1265.78 168.26 1265.8 167.26 1265.83 166.26 1265.87 165.25 1265.92 164.25 1266 163.25 1266.12 162.25 1266.31 161.25 1266.59 160.25 1267 159.25 1267.57 158.24 1268.35 157.24 1269.34 156.24 1270.56 155.24 1271.98 154.24 1273.55 153.24 1275.21 152.24 1276.85 151.24 1278.4 150.23 1279.77 149.23 1280.89 148.23 1281.72 147.23 1282.26 146.23 1282.53 145.23 1282.6 144.23 1282.56 143.22 1282.35 142.22 1281.88 141.22 1281.13 140.22 1280.08 139.22 1278.77 138.22 1277.26 137.22 1275.63 136.22 1273.97 135.21 1272.37 134.21 1270.91 133.21 1269.64 132.21 1268.59 131.21 1267.76 130.21 1267.14 129.21 1266.69 128.21 1266.39 127.2 1266.18 126.2 1266.05 125.2 1265.97 124.2 1265.92 123.2 1265.88 122.2 1265.86 121.2 1265.84 120.19 1265.82 119.19 1265.81 118.19 1265.81 117.19 1265.81 116.19 1265.81 115.19 1265.82 114.19 1265.84 113.19 1265.88 112.18 1265.96 111.18 1266.07 110.18 1266.24 109.18 1266.49 108.18 1266.82 107.18 1267.25 106.18 1267.78 105.17 1268.41 104.17 1269.1 103.17 1269.84 102.17 1270.58 101.17 1271.27 100.17 1271.89 99.17 1272.4 98.17 1272.78 97.16 1273.03 96.16 1273.16 95.16 1273.2 94.16 1273.19 93.16 1273.1 92.16 1272.9 91.16 1272.57 90.16 1272.12 89.15 1271.54 88.15 1270.87 87.15 1270.14 86.15 1269.4 85.15 1268.68 84.15 1268.02 83.15 1267.45 82.14 1266.97 81.14 1266.59 80.14 1266.3 79.14 1266.1 78.14 1265.95 77.14 1265.86 76.14 1265.79 75.14 1265.75 74.13 1265.69 73.13 1265.65 72.13 1265.62 71.13 1265.6 70.13 L1265.6 70.13 1265.58 71.13 1265.55 72.13 1265.51 73.13 1265.45 74.13 1265.41 75.14 1265.34 76.14 1265.25 77.14 1265.1 78.14 1264.9 79.14 1264.61 80.14 1264.23 81.14 1263.75 82.14 1263.18 83.15 1262.52 84.15 1261.8 85.15 1261.06 86.15 1260.33 87.15 1259.66 88.15 1259.08 89.15 1258.63 90.16 1258.3 91.16 1258.1 92.16 1258.01 93.16 1258 94.16 1258.04 95.16 1258.17 96.16 1258.42 97.16 1258.8 98.17 1259.31 99.17 1259.93 100.17 1260.62 101.17 1261.36 102.17 1262.1 103.17 1262.79 104.17 1263.42 105.17 1263.95 106.18 1264.38 107.18 1264.71 108.18 1264.96 109.18 1265.13 110.18 1265.24 111.18 1265.32 112.18 1265.36 113.19 1265.38 114.19 1265.39 115.19 1265.39 116.19 1265.39 117.19 1265.39 118.19 1265.38 119.19 1265.36 120.19 1265.34 121.2 1265.32 122.2 1265.28 123.2 1265.23 124.2 1265.15 125.2 1265.02 126.2 1264.81 127.2 1264.51 128.21 1264.06 129.21 1263.44 130.21 1262.61 131.21 1261.56 132.21 1260.29 133.21 1258.83 134.21 1257.23 135.21 1255.57 136.22 1253.94 137.22 1252.43 138.22 1251.12 139.22 1250.07 140.22 1249.32 141.22 1248.85 142.22 1248.64 143.22 1248.6 144.23 1248.67 145.23 1248.94 146.23 1249.48 147.23 1250.31 148.23 1251.43 149.23 1252.8 150.23 1254.35 151.24 1255.99 152.24 1257.65 153.24 1259.22 154.24 1260.64 155.24 1261.86 156.24 1262.85 157.24 1263.63 158.24 1264.2 159.25 1264.61 160.25 1264.89 161.25 1265.08 162.25 1265.2 163.25 1265.28 164.25 1265.33 165.25 1265.37 166.26 1265.4 167.26 1265.42 168.26 1265.44 169.26 1265.46 170.26 1265.47 171.26 1265.49 172.26 1265.5 173.26 1265.51 174.27 1265.52 175.27 1265.52 176.27 1265.52 177.27 1265.52 178.27 1265.51 179.27 1265.49 180.27 1265.46 181.27 1265.42 182.28 1265.37 183.28 1265.31 184.28 1265.25 185.28 1265.19 186.28 1265.12 187.28 1265.06 188.28 1265 189.29 1264.96 190.29 1264.93 191.29 1264.91 192.29 1264.9 193.29 1264.9 194.29 1264.9 195.29 1264.91 196.29 1264.93 197.3 1264.97 198.3 1265.01 199.3 1265.07 200.3 1265.13 201.3 1265.2 202.3 1265.27 203.3 1265.33 204.31 1265.39 205.31 1265.44 206.31 1265.48 207.31 1265.52 208.31 1265.54 209.31 1265.56 210.31 1265.57 211.31 1265.58 212.32 1265.58 213.32 1265.59 214.32 1265.59 215.32 1265.59 216.32 1265.6 217.32 1265.6 218.32 1265.6 219.32Z" fill="#e6e0ee" stroke="#9c75be" stroke-width="2.8" stroke-linejoin="round"/>
<line x1="1250.66" y1="144.1" x2="1280.54" y2="144.1" stroke="#9c75be" stroke-width="1.43" stroke-dasharray="3.96 3.52"/>
<line x1="1262.26" y1="93.95" x2="1268.94" y2="93.95" stroke="#9c75be" stroke-width="1.1" stroke-dasharray="1.21 2.75"/>
<path d="M1322 223.34 1322.02 222.34 1322.05 221.33 1322.08 220.33 1322.13 219.33 1322.15 218.33 1322.18 217.33 1322.22 216.33 1322.28 215.33 1322.36 214.32 1322.48 213.32 1322.64 212.32 1322.86 211.32 1323.14 210.32 1323.5 209.32 1323.93 208.32 1324.43 207.31 1325.01 206.31 1325.63 205.31 1326.29 204.31 1326.96 203.31 1327.61 202.31 1328.22 201.31 1328.76 200.3 1329.22 199.3 1329.58 198.3 1329.84 197.3 1330 196.3 1330.08 195.3 1330.1 194.3 1330.09 193.29 1330.02 192.29 1329.86 191.29 1329.62 190.29 1329.27 189.29 1328.83 188.29 1328.3 187.29 1327.7 186.28 1327.06 185.28 1326.39 184.28 1325.74 183.28 1325.12 182.28 1324.55 181.28 1324.04 180.28 1323.61 179.27 1323.26 178.27 1322.99 177.27 1322.78 176.27 1322.62 175.27 1322.52 174.27 1322.45 173.27 1322.41 172.26 1322.39 171.26 1322.38 170.26 1322.39 169.26 1322.42 168.26 1322.47 167.26 1322.54 166.26 1322.66 165.26 1322.82 164.25 1323.06 163.25 1323.39 162.25 1323.84 161.25 1324.43 160.25 1325.17 159.25 1326.07 158.25 1327.14 157.24 1328.35 156.24 1329.68 155.24 1331.08 154.24 1332.5 153.24 1333.9 152.24 1335.2 151.24 1336.37 150.23 1337.36 149.23 1338.14 148.23 1338.71 147.23 1339.07 146.23 1339.25 145.23 1339.3 144.23 1339.27 143.22 1339.13 142.22 1338.82 141.22 1338.3 140.22 1337.57 139.22 1336.63 138.22 1335.5 137.22 1334.23 136.21 1332.85 135.21 1331.42 134.21 1330.01 133.21 1328.65 132.21 1327.41 131.21 1326.3 130.21 1325.35 129.2 1324.57 128.2 1323.94 127.2 1323.46 126.2 1323.09 125.2 1322.83 124.2 1322.64 123.2 1322.51 122.19 1322.42 121.19 1322.36 120.19 1322.31 119.19 1322.28 118.19 1322.26 117.19 1322.25 116.19 1322.25 115.18 1322.26 114.18 1322.27 113.18 1322.31 112.18 1322.36 111.18 1322.43 110.18 1322.52 109.18 1322.63 108.17 1322.77 107.17 1322.94 106.17 1323.12 105.17 1323.31 104.17 1323.5 103.17 1323.7 102.17 1323.88 101.16 1324.04 100.16 1324.18 99.16 1324.29 98.16 1324.37 97.16 1324.42 96.16 1324.44 95.16 1324.45 94.15 1324.45 93.15 1324.43 92.15 1324.38 91.15 1324.31 90.15 1324.21 89.15 1324.08 88.15 1323.92 87.14 1323.74 86.14 1323.55 85.14 1323.35 84.14 1323.15 83.14 1322.95 82.14 1322.78 81.14 1322.62 80.13 1322.48 79.13 1322.37 78.13 1322.28 77.13 1322.21 76.13 1322.16 75.13 1322.12 74.13 1322.09 73.13 1322.07 72.12 1322.06 71.12 1322.05 70.12 1322.04 69.12 1322.03 68.12 1322.02 67.12 1322.01 66.12 1322 65.11 L1322 65.11 1321.99 66.12 1321.98 67.12 1321.97 68.12 1321.96 69.12 1321.95 70.12 1321.94 71.12 1321.93 72.12 1321.91 73.13 1321.88 74.13 1321.84 75.13 1321.79 76.13 1321.72 77.13 1321.63 78.13 1321.52 79.13 1321.38 80.13 1321.22 81.14 1321.05 82.14 1320.85 83.14 1320.65 84.14 1320.45 85.14 1320.26 86.14 1320.08 87.14 1319.92 88.15 1319.79 89.15 1319.69 90.15 1319.62 91.15 1319.57 92.15 1319.55 93.15 1319.55 94.15 1319.56 95.16 1319.58 96.16 1319.63 97.16 1319.71 98.16 1319.82 99.16 1319.96 100.16 1320.12 101.16 1320.3 102.17 1320.5 103.17 1320.69 104.17 1320.88 105.17 1321.06 106.17 1321.23 107.17 1321.37 108.17 1321.48 109.18 1321.57 110.18 1321.64 111.18 1321.69 112.18 1321.73 113.18 1321.74 114.18 1321.75 115.18 1321.75 116.19 1321.74 117.19 1321.72 118.19 1321.69 119.19 1321.64 120.19 1321.58 121.19 1321.49 122.19 1321.36 123.2 1321.17 124.2 1320.91 125.2 1320.54 126.2 1320.06 127.2 1319.43 128.2 1318.65 129.2 1317.7 130.21 1316.59 131.21 1315.35 132.21 1313.99 133.21 1312.58 134.21 1311.15 135.21 1309.77 136.21 1308.5 137.22 1307.37 138.22 1306.43 139.22 1305.7 140.22 1305.18 141.22 1304.87 142.22 1304.73 143.22 1304.7 144.23 1304.75 145.23 1304.93 146.23 1305.29 147.23 1305.86 148.23 1306.64 149.23 1307.63 150.23 1308.8 151.24 1310.1 152.24 1311.5 153.24 1312.92 154.24 1314.32 155.24 1315.65 156.24 1316.86 157.24 1317.93 158.25 1318.83 159.25 1319.57 160.25 1320.16 161.25 1320.61 162.25 1320.94 163.25 1321.18 164.25 1321.34 165.26 1321.46 166.26 1321.53 167.26 1321.58 168.26 1321.61 169.26 1321.62 170.26 1321.61 171.26 1321.59 172.26 1321.55 173.27 1321.48 174.27 1321.38 175.27 1321.22 176.27 1321.01 177.27 1320.74 178.27 1320.39 179.27 1319.96 180.28 1319.45 181.28 1318.88 182.28 1318.26 183.28 1317.61 184.28 1316.94 185.28 1316.3 186.28 1315.7 187.29 1315.17 188.29 1314.73 189.29 1314.38 190.29 1314.14 191.29 1313.98 192.29 1313.91 193.29 1313.9 194.3 1313.92 195.3 1314 196.3 1314.16 197.3 1314.42 198.3 1314.78 199.3 1315.24 200.3 1315.78 201.31 1316.39 202.31 1317.04 203.31 1317.71 204.31 1318.37 205.31 1318.99 206.31 1319.57 207.31 1320.07 208.32 1320.5 209.32 1320.86 210.32 1321.14 211.32 1321.36 212.32 1321.52 213.32 1321.64 214.32 1321.72 215.33 1321.78 216.33 1321.82 217.33 1321.85 218.33 1321.87 219.33 1321.92 220.33 1321.95 221.33 1321.98 222.34 1322 223.34Z" fill="#f3f3f3" stroke="#d2d2d2" stroke-width="2.8" stroke-linejoin="round"/>
<line x1="1306.76" y1="144.1" x2="1337.24" y2="144.1" stroke="#d2d2d2" stroke-width="1.43" stroke-dasharray="3.96 3.52"/>
<line x1="1318.16" y1="194.25" x2="1325.84" y2="194.25" stroke="#d2d2d2" stroke-width="1.1" stroke-dasharray="1.21 2.75"/>
<path d="M1378.4 278 1378.4 277 1378.41 276 1378.41 275 1378.41 273.99 1378.41 272.99 1378.42 271.99 1378.42 270.99 1378.42 269.99 1378.43 268.99 1378.44 267.98 1378.45 266.98 1378.46 265.98 1378.48 264.98 1378.5 263.98 1378.53 262.98 1378.56 261.97 1378.6 260.97 1378.65 259.97 1378.7 258.97 1378.75 257.97 1378.82 256.97 1378.88 255.97 1378.94 254.96 1379.01 253.96 1379.07 252.96 1379.12 251.96 1379.17 250.96 1379.21 249.96 1379.24 248.95 1379.27 247.95 1379.29 246.95 1379.3 245.95 1379.3 244.95 1379.3 243.95 1379.3 242.94 1379.29 241.94 1379.27 240.94 1379.25 239.94 1379.22 238.94 1379.18 237.94 1379.14 236.93 1379.08 235.93 1379.02 234.93 1378.96 233.93 1378.9 232.93 1378.84 231.93 1378.78 230.92 1378.72 229.92 1378.67 228.92 1378.63 227.92 1378.59 226.92 1378.56 225.92 1378.54 224.91 1378.52 223.91 1378.51 222.91 1378.5 221.91 1378.5 220.91 1378.5 219.91 1378.51 218.91 1378.53 217.9 1378.56 216.9 1378.6 215.9 1378.65 214.9 1378.72 213.9 1378.8 212.9 1378.9 211.89 1379.03 210.89 1379.17 209.89 1379.33 208.89 1379.51 207.89 1379.7 206.89 1379.9 205.88 1380.11 204.88 1380.3 203.88 1380.49 202.88 1380.67 201.88 1380.82 200.88 1380.96 199.87 1381.06 198.87 1381.14 197.87 1381.2 196.87 1381.23 195.87 1381.25 194.87 1381.25 193.86 1381.25 192.86 1381.22 191.86 1381.18 190.86 1381.11 189.86 1381.02 188.86 1380.9 187.86 1380.76 186.85 1380.6 185.85 1380.42 184.85 1380.23 183.85 1380.04 182.85 1379.85 181.85 1379.67 180.84 1379.5 179.84 1379.35 178.84 1379.21 177.84 1379.1 176.84 1379.01 175.84 1378.94 174.83 1378.89 173.83 1378.87 172.83 1378.86 171.83 1378.88 170.83 1378.93 169.83 1379.01 168.82 1379.13 167.82 1379.3 166.82 1379.53 165.82 1379.84 164.82 1380.24 163.82 1380.74 162.81 1381.35 161.81 1382.09 160.81 1382.94 159.81 1383.91 158.81 1384.98 157.81 1386.13 156.81 1387.32 155.8 1388.54 154.8 1389.73 153.8 1390.87 152.8 1391.93 151.8 1392.86 150.8 1393.66 149.79 1394.3 148.79 1394.79 147.79 1395.12 146.79 1395.31 145.79 1395.39 144.79 1395.4 143.78 1395.35 142.78 1395.21 141.78 1394.93 140.78 1394.51 139.78 1393.93 138.78 1393.19 137.77 1392.3 136.77 1391.29 135.77 1390.19 134.77 1389.01 133.77 1387.8 132.77 1386.6 131.76 1385.43 130.76 1384.34 129.76 1383.33 128.76 1382.44 127.76 1381.67 126.76 1381.01 125.76 1380.48 124.75 1380.05 123.75 1379.72 122.75 1379.47 121.75 1379.3 120.75 1379.18 119.75 1379.12 118.74 1379.1 117.74 1379.12 116.74 1379.19 115.74 1379.3 114.74 1379.47 113.74 1379.68 112.73 1379.95 111.73 1380.28 110.73 1380.67 109.73 1381.11 108.73 1381.61 107.73 1382.14 106.72 1382.7 105.72 1383.26 104.72 1383.82 103.72 1384.36 102.72 1384.86 101.72 1385.3 100.71 1385.68 99.71 1385.98 98.71 1386.21 97.71 1386.37 96.71 1386.46 95.71 1386.5 94.71 1386.5 93.7 1386.48 92.7 1386.41 91.7 1386.28 90.7 1386.08 89.7 1385.8 88.7 1385.45 87.69 1385.04 86.69 1384.56 85.69 1384.03 84.69 1383.47 83.69 1382.89 82.69 1382.32 81.68 1381.76 80.68 1381.23 79.68 1380.75 78.68 1380.31 77.68 1379.94 76.68 1379.62 75.67 1379.36 74.67 1379.14 73.67 1378.98 72.67 1378.85 71.67 1378.75 70.67 1378.68 69.66 1378.63 68.66 1378.59 67.66 1378.56 66.66 1378.54 65.66 1378.52 64.66 1378.48 63.66 1378.45 62.65 1378.42 61.65 1378.4 60.65 L1378.4 60.65 1378.38 61.65 1378.35 62.65 1378.32 63.66 1378.28 64.66 1378.26 65.66 1378.24 66.66 1378.21 67.66 1378.17 68.66 1378.12 69.66 1378.05 70.67 1377.95 71.67 1377.82 72.67 1377.66 73.67 1377.44 74.67 1377.18 75.67 1376.86 76.68 1376.49 77.68 1376.05 78.68 1375.57 79.68 1375.04 80.68 1374.48 81.68 1373.91 82.69 1373.33 83.69 1372.77 84.69 1372.24 85.69 1371.76 86.69 1371.35 87.69 1371 88.7 1370.72 89.7 1370.52 90.7 1370.39 91.7 1370.32 92.7 1370.3 93.7 1370.3 94.71 1370.34 95.71 1370.43 96.71 1370.59 97.71 1370.82 98.71 1371.12 99.71 1371.5 100.71 1371.94 101.72 1372.44 102.72 1372.98 103.72 1373.54 104.72 1374.1 105.72 1374.66 106.72 1375.19 107.73 1375.69 108.73 1376.13 109.73 1376.52 110.73 1376.85 111.73 1377.12 112.73 1377.33 113.74 1377.5 114.74 1377.61 115.74 1377.68 116.74 1377.7 117.74 1377.68 118.74 1377.62 119.75 1377.5 120.75 1377.33 121.75 1377.08 122.75 1376.75 123.75 1376.32 124.75 1375.79 125.76 1375.13 126.76 1374.36 127.76 1373.47 128.76 1372.46 129.76 1371.37 130.76 1370.2 131.76 1369 132.77 1367.79 133.77 1366.61 134.77 1365.51 135.77 1364.5 136.77 1363.61 137.77 1362.87 138.78 1362.29 139.78 1361.87 140.78 1361.59 141.78 1361.45 142.78 1361.4 143.78 1361.41 144.79 1361.49 145.79 1361.68 146.79 1362.01 147.79 1362.5 148.79 1363.14 149.79 1363.94 150.8 1364.87 151.8 1365.93 152.8 1367.07 153.8 1368.26 154.8 1369.48 155.8 1370.67 156.81 1371.82 157.81 1372.89 158.81 1373.86 159.81 1374.71 160.81 1375.45 161.81 1376.06 162.81 1376.56 163.82 1376.96 164.82 1377.27 165.82 1377.5 166.82 1377.67 167.82 1377.79 168.82 1377.87 169.83 1377.92 170.83 1377.94 171.83 1377.93 172.83 1377.91 173.83 1377.86 174.83 1377.79 175.84 1377.7 176.84 1377.59 177.84 1377.45 178.84 1377.3 179.84 1377.13 180.84 1376.95 181.85 1376.76 182.85 1376.57 183.85 1376.38 184.85 1376.2 185.85 1376.04 186.85 1375.9 187.86 1375.78 188.86 1375.69 189.86 1375.62 190.86 1375.58 191.86 1375.55 192.86 1375.55 193.86 1375.55 194.87 1375.57 195.87 1375.6 196.87 1375.66 197.87 1375.74 198.87 1375.84 199.87 1375.98 200.88 1376.13 201.88 1376.31 202.88 1376.5 203.88 1376.69 204.88 1376.9 205.88 1377.1 206.89 1377.29 207.89 1377.47 208.89 1377.63 209.89 1377.77 210.89 1377.9 211.89 1378 212.9 1378.08 213.9 1378.15 214.9 1378.2 215.9 1378.24 216.9 1378.27 217.9 1378.29 218.91 1378.3 219.91 1378.3 220.91 1378.3 221.91 1378.29 222.91 1378.28 223.91 1378.26 224.91 1378.24 225.92 1378.21 226.92 1378.17 227.92 1378.13 228.92 1378.08 229.92 1378.02 230.92 1377.96 231.93 1377.9 232.93 1377.84 233.93 1377.78 234.93 1377.72 235.93 1377.66 236.93 1377.62 237.94 1377.58 238.94 1377.55 239.94 1377.53 240.94 1377.51 241.94 1377.5 242.94 1377.5 243.95 1377.5 244.95 1377.5 245.95 1377.51 246.95 1377.53 247.95 1377.56 248.95 1377.59 249.96 1377.63 250.96 1377.68 251.96 1377.73 252.96 1377.79 253.96 1377.86 254.96 1377.92 255.97 1377.98 256.97 1378.05 257.97 1378.1 258.97 1378.15 259.97 1378.2 260.97 1378.24 261.97 1378.27 262.98 1378.3 263.98 1378.32 264.98 1378.34 265.98 1378.35 266.98 1378.36 267.98 1378.37 268.99 1378.38 269.99 1378.38 270.99 1378.38 271.99 1378.39 272.99 1378.39 273.99 1378.39 275 1378.39 276 1378.4 277 1378.4 278Z" fill="#ebe9e1" stroke="#a69f76" stroke-width="2.8" stroke-linejoin="round"/>
<line x1="1363.46" y1="144.1" x2="1393.34" y2="144.1" stroke="#a69f76" stroke-width="1.43" stroke-dasharray="3.96 3.52"/>
<line x1="1374.56" y1="93.95" x2="1382.24" y2="93.95" stroke="#a69f76" stroke-width="1.1" stroke-dasharray="1.21 2.75"/>
<path d="M1434.8 210.3 1434.8 209.29 1434.81 208.29 1434.81 207.28 1434.82 206.28 1434.83 205.27 1434.85 204.27 1434.89 203.26 1434.95 202.26 1435.03 201.25 1435.14 200.25 1435.25 199.24 1435.36 198.24 1435.45 197.23 1435.51 196.23 1435.54 195.22 1435.55 194.22 1435.54 193.21 1435.51 192.21 1435.45 191.2 1435.35 190.2 1435.24 189.19 1435.13 188.19 1435.03 187.18 1434.94 186.18 1434.89 185.18 1434.85 184.17 1434.83 183.17 1434.82 182.16 1434.81 181.16 1434.81 180.15 1434.81 179.15 1434.81 178.14 1434.81 177.14 1434.81 176.13 1434.81 175.13 1434.81 174.12 1434.81 173.12 1434.81 172.11 1434.81 171.11 1434.81 170.1 1434.82 169.1 1434.82 168.09 1434.83 167.09 1434.84 166.08 1434.85 165.08 1434.87 164.07 1434.88 163.07 1434.91 162.06 1434.93 161.06 1434.96 160.05 1435 159.05 1435.05 158.04 1435.12 157.04 1435.27 156.03 1435.55 155.03 1436.07 154.02 1436.98 153.02 1438.41 152.01 1440.38 151.01 1442.82 150 1445.47 149 1448 147.99 1450.05 146.99 1451.43 145.98 1452.08 144.98 1452.2 143.97 1451.98 142.97 1451.15 141.96 1449.59 140.96 1447.39 139.95 1444.8 138.95 1442.18 137.94 1439.84 136.94 1438 135.93 1436.71 134.93 1435.91 133.92 1435.46 132.92 1435.22 131.91 1435.1 130.91 1435.03 129.9 1434.99 128.9 1434.95 127.9 1434.92 126.89 1434.9 125.89 1434.88 124.88 1434.86 123.88 1434.85 122.87 1434.84 121.87 1434.83 120.86 1434.82 119.86 1434.82 118.85 1434.81 117.85 1434.81 116.84 1434.81 115.84 1434.81 114.83 1434.81 113.83 1434.81 112.82 1434.81 111.82 1434.81 110.81 1434.81 109.81 1434.81 108.8 1434.81 107.8 1434.82 106.79 1434.83 105.79 1434.85 104.78 1434.88 103.78 1434.93 102.77 1435.02 101.77 1435.13 100.76 1435.28 99.76 1435.43 98.75 1435.57 97.75 1435.69 96.74 1435.76 95.74 1435.79 94.73 1435.8 93.73 1435.78 92.72 1435.73 91.72 1435.64 90.71 1435.51 89.71 1435.36 88.7 1435.21 87.7 1435.08 86.69 1434.98 85.69 1434.9 84.68 1434.86 83.68 1434.84 82.67 1434.82 81.67 1434.81 80.66 1434.8 79.66 1434.8 78.65 L1434.8 78.65 1434.8 79.66 1434.79 80.66 1434.78 81.67 1434.76 82.67 1434.74 83.68 1434.7 84.68 1434.62 85.69 1434.52 86.69 1434.39 87.7 1434.24 88.7 1434.09 89.71 1433.96 90.71 1433.87 91.72 1433.82 92.72 1433.8 93.73 1433.81 94.73 1433.84 95.74 1433.91 96.74 1434.03 97.75 1434.17 98.75 1434.32 99.76 1434.47 100.76 1434.58 101.77 1434.67 102.77 1434.72 103.78 1434.75 104.78 1434.77 105.79 1434.78 106.79 1434.79 107.8 1434.79 108.8 1434.79 109.81 1434.79 110.81 1434.79 111.82 1434.79 112.82 1434.79 113.83 1434.79 114.83 1434.79 115.84 1434.79 116.84 1434.79 117.85 1434.78 118.85 1434.78 119.86 1434.77 120.86 1434.76 121.87 1434.75 122.87 1434.74 123.88 1434.72 124.88 1434.7 125.89 1434.68 126.89 1434.65 127.9 1434.61 128.9 1434.57 129.9 1434.5 130.91 1434.38 131.91 1434.14 132.92 1433.69 133.92 1432.89 134.93 1431.6 135.93 1429.76 136.94 1427.42 137.94 1424.8 138.95 1422.21 139.95 1420.01 140.96 1418.45 141.96 1417.62 142.97 1417.4 143.97 1417.52 144.98 1418.17 145.98 1419.55 146.99 1421.6 147.99 1424.13 149 1426.78 150 1429.22 151.01 1431.19 152.01 1432.62 153.02 1433.53 154.02 1434.05 155.03 1434.33 156.03 1434.48 157.04 1434.55 158.04 1434.6 159.05 1434.64 160.05 1434.67 161.06 1434.69 162.06 1434.72 163.07 1434.73 164.07 1434.75 165.08 1434.76 166.08 1434.77 167.09 1434.78 168.09 1434.78 169.1 1434.79 170.1 1434.79 171.11 1434.79 172.11 1434.79 173.12 1434.79 174.12 1434.79 175.13 1434.79 176.13 1434.79 177.14 1434.79 178.14 1434.79 179.15 1434.79 180.15 1434.79 181.16 1434.78 182.16 1434.77 183.17 1434.75 184.17 1434.71 185.18 1434.66 186.18 1434.57 187.18 1434.47 188.19 1434.36 189.19 1434.25 190.2 1434.15 191.2 1434.09 192.21 1434.06 193.21 1434.05 194.22 1434.06 195.22 1434.09 196.23 1434.15 197.23 1434.24 198.24 1434.35 199.24 1434.46 200.25 1434.57 201.25 1434.65 202.26 1434.71 203.26 1434.75 204.27 1434.77 205.27 1434.78 206.28 1434.79 207.28 1434.79 208.29 1434.8 209.29 1434.8 210.3Z" fill="#e3e9f3" stroke="#7f9ecd" stroke-width="2.8" stroke-linejoin="round"/>
<line x1="1419.46" y1="144.1" x2="1450.14" y2="144.1" stroke="#7f9ecd" stroke-width="1.43" stroke-dasharray="3.96 3.52"/>
<path d="M1491.2 218.02 1491.21 217.02 1491.22 216.01 1491.23 215.01 1491.25 214 1491.27 213 1491.29 211.99 1491.32 210.99 1491.37 209.99 1491.44 208.98 1491.54 207.98 1491.68 206.97 1491.86 205.97 1492.08 204.96 1492.34 203.96 1492.62 202.96 1492.92 201.95 1493.21 200.95 1493.49 199.94 1493.72 198.94 1493.91 197.93 1494.04 196.93 1494.11 195.93 1494.15 194.92 1494.15 193.92 1494.13 192.91 1494.07 191.91 1493.96 190.9 1493.79 189.9 1493.57 188.89 1493.31 187.89 1493.02 186.89 1492.73 185.88 1492.44 184.88 1492.17 183.87 1491.94 182.87 1491.75 181.86 1491.6 180.86 1491.49 179.86 1491.42 178.85 1491.37 177.85 1491.34 176.84 1491.32 175.84 1491.32 174.83 1491.32 173.83 1491.32 172.82 1491.33 171.82 1491.34 170.82 1491.36 169.81 1491.37 168.81 1491.39 167.8 1491.41 166.8 1491.44 165.79 1491.47 164.79 1491.52 163.79 1491.6 162.78 1491.72 161.78 1491.91 160.77 1492.2 159.77 1492.63 158.76 1493.24 157.76 1494.07 156.75 1495.14 155.75 1496.45 154.75 1497.97 153.74 1499.65 152.74 1501.4 151.73 1503.12 150.73 1504.71 149.72 1506.06 148.72 1507.13 147.72 1507.88 146.71 1508.31 145.71 1508.48 144.7 1508.49 143.7 1508.36 142.69 1507.99 141.69 1507.31 140.69 1506.3 139.68 1505 138.68 1503.45 137.67 1501.75 136.67 1500 135.66 1498.3 134.66 1496.74 133.65 1495.38 132.65 1494.26 131.65 1493.38 130.64 1492.73 129.64 1492.27 128.63 1491.96 127.63 1491.75 126.62 1491.62 125.62 1491.54 124.62 1491.48 123.61 1491.45 122.61 1491.42 121.6 1491.4 120.6 1491.38 119.59 1491.36 118.59 1491.35 117.58 1491.34 116.58 1491.33 115.58 1491.33 114.57 1491.33 113.57 1491.33 112.56 1491.35 111.56 1491.38 110.55 1491.43 109.55 1491.52 108.55 1491.64 107.54 1491.8 106.54 1492.01 105.53 1492.28 104.53 1492.58 103.52 1492.92 102.52 1493.26 101.51 1493.6 100.51 1493.92 99.51 1494.18 98.5 1494.39 97.5 1494.53 96.49 1494.62 95.49 1494.65 94.48 1494.65 93.48 1494.62 92.48 1494.54 91.47 1494.4 90.47 1494.19 89.46 1493.93 88.46 1493.62 87.45 1493.28 86.45 1492.93 85.44 1492.59 84.44 1492.28 83.44 1492.02 82.43 1491.8 81.43 1491.62 80.42 1491.5 79.42 1491.41 78.41 1491.35 77.41 1491.31 76.41 1491.28 75.4 1491.26 74.4 1491.24 73.39 1491.22 72.39 1491.21 71.38 1491.2 70.38 L1491.2 70.38 1491.19 71.38 1491.18 72.39 1491.16 73.39 1491.14 74.4 1491.12 75.4 1491.09 76.41 1491.05 77.41 1490.99 78.41 1490.9 79.42 1490.78 80.42 1490.6 81.43 1490.38 82.43 1490.12 83.44 1489.81 84.44 1489.47 85.44 1489.12 86.45 1488.78 87.45 1488.47 88.46 1488.21 89.46 1488 90.47 1487.86 91.47 1487.78 92.48 1487.75 93.48 1487.75 94.48 1487.78 95.49 1487.87 96.49 1488.01 97.5 1488.22 98.5 1488.48 99.51 1488.8 100.51 1489.14 101.51 1489.48 102.52 1489.82 103.52 1490.12 104.53 1490.39 105.53 1490.6 106.54 1490.76 107.54 1490.88 108.55 1490.97 109.55 1491.02 110.55 1491.05 111.56 1491.07 112.56 1491.07 113.57 1491.07 114.57 1491.07 115.58 1491.06 116.58 1491.05 117.58 1491.04 118.59 1491.02 119.59 1491 120.6 1490.98 121.6 1490.95 122.61 1490.92 123.61 1490.86 124.62 1490.78 125.62 1490.65 126.62 1490.44 127.63 1490.13 128.63 1489.67 129.64 1489.02 130.64 1488.14 131.65 1487.02 132.65 1485.66 133.65 1484.1 134.66 1482.4 135.66 1480.65 136.67 1478.95 137.67 1477.4 138.68 1476.1 139.68 1475.09 140.69 1474.41 141.69 1474.04 142.69 1473.91 143.7 1473.92 144.7 1474.09 145.71 1474.52 146.71 1475.27 147.72 1476.34 148.72 1477.69 149.72 1479.28 150.73 1481 151.73 1482.75 152.74 1484.43 153.74 1485.95 154.75 1487.26 155.75 1488.33 156.75 1489.16 157.76 1489.77 158.76 1490.2 159.77 1490.49 160.77 1490.68 161.78 1490.8 162.78 1490.88 163.79 1490.93 164.79 1490.96 165.79 1490.99 166.8 1491.01 167.8 1491.03 168.81 1491.04 169.81 1491.06 170.82 1491.07 171.82 1491.08 172.82 1491.08 173.83 1491.08 174.83 1491.08 175.84 1491.06 176.84 1491.03 177.85 1490.98 178.85 1490.91 179.86 1490.8 180.86 1490.65 181.86 1490.46 182.87 1490.23 183.87 1489.96 184.88 1489.67 185.88 1489.38 186.89 1489.09 187.89 1488.83 188.89 1488.61 189.9 1488.44 190.9 1488.33 191.91 1488.27 192.91 1488.25 193.92 1488.25 194.92 1488.29 195.93 1488.36 196.93 1488.49 197.93 1488.68 198.94 1488.91 199.94 1489.19 200.95 1489.48 201.95 1489.78 202.96 1490.06 203.96 1490.32 204.96 1490.54 205.97 1490.72 206.97 1490.86 207.98 1490.96 208.98 1491.03 209.99 1491.08 210.99 1491.11 211.99 1491.13 213 1491.15 214 1491.17 215.01 1491.18 216.01 1491.19 217.02 1491.2 218.02Z" fill="#eaf3e9" stroke="#a8d6a3" stroke-width="2.8" stroke-linejoin="round"/>
<line x1="1475.96" y1="144.1" x2="1506.44" y2="144.1" stroke="#a8d6a3" stroke-width="1.43" stroke-dasharray="3.96 3.52"/>
<path d="M1228 42.38 V344.7 H1529.8" fill="none" stroke="#000" stroke-width="2.85" stroke-linejoin="miter"/>
<path d="M1215.2 344.7 H1228" fill="none" stroke="#000" stroke-width="2.85"/>
<text transform="translate(1212 353.44) scale(0.9 1)" font-size="24.4" font-weight="bold" text-anchor="end">0</text>
<text transform="translate(1212 253.14) scale(0.9 1)" font-size="24.4" font-weight="bold" text-anchor="end">2</text>
<text transform="translate(1212 152.84) scale(0.9 1)" font-size="24.4" font-weight="bold" text-anchor="end">4</text>
<text transform="translate(1212 52.54) scale(0.9 1)" font-size="24.4" font-weight="bold" text-anchor="end">6</text>
<path d="M1215.2 244.4H1228M1215.2 144.1H1228M1215.2 43.8H1228" fill="none" stroke="#000" stroke-width="2.85"/>
<text transform="translate(1273.9 378.4) rotate(-44.8)" font-size="22.85" font-weight="bold" text-anchor="end">ChatGPT-4o</text>
<text transform="translate(1330.25 378.4) rotate(-44.8)" font-size="22.85" font-weight="bold" text-anchor="end">Deepseek-V3</text>
<text transform="translate(1386.6 378.4) rotate(-44.8)" font-size="22.85" font-weight="bold" text-anchor="end">Qwen</text>
<text transform="translate(1442.95 378.4) rotate(-44.8)" font-size="22.85" font-weight="bold" text-anchor="end">Doubao</text>
<text transform="translate(1499.3 378.4) rotate(-44.8)" font-size="22.85" font-weight="bold" text-anchor="end">Wenxinyiyan 4.0 turbo</text>
<path d="M1265.4 344.7V357.7M1321.75 344.7V357.7M1378.1 344.7V357.7M1434.45 344.7V357.7M1490.8 344.7V357.7" fill="none" stroke="#000" stroke-width="2.85"/>
<text transform="translate(1181.4 194.8) rotate(-90) scale(1.02 1)" font-size="24.5" font-weight="bold" text-anchor="middle">coherence score</text>
<text x="1378.6" y="583.6" font-size="23.5" font-weight="bold" text-anchor="middle" fill="#111">c</text>
<path d="M1264 54.7 V40.1 H1323.9 V54.7" fill="none" stroke="#0a0a0a" stroke-width="1.6"/>
<text x="1293.8" y="26.4" font-size="20.3" font-style="italic" text-anchor="middle" fill="#0a0a0a">P=0.01</text>
</g>
<g>
<path d="M92.1 930.6 92.13 929.6 92.16 928.59 92.2 927.59 92.24 926.58 92.27 925.58 92.32 924.57 92.38 923.56 92.47 922.56 92.6 921.55 92.76 920.55 92.96 919.54 93.22 918.54 93.54 917.53 93.9 916.53 94.31 915.52 94.77 914.52 95.25 913.51 95.74 912.5 96.22 911.5 96.69 910.49 97.1 909.49 97.47 908.48 97.77 907.48 98 906.47 98.16 905.47 98.25 904.46 98.29 903.46 98.3 902.45 98.28 901.44 98.22 900.44 98.1 899.43 97.91 898.43 97.65 897.42 97.32 896.42 96.93 895.41 96.5 894.41 96.03 893.4 95.55 892.4 95.08 891.39 94.63 890.38 94.21 889.38 93.84 888.37 93.53 887.37 93.28 886.36 93.08 885.36 92.95 884.35 92.87 883.35 92.86 882.34 92.91 881.34 93.03 880.33 93.23 879.32 93.52 878.32 93.92 877.31 94.44 876.31 95.08 875.3 95.85 874.3 96.74 873.29 97.74 872.29 98.83 871.28 99.96 870.28 101.11 869.27 102.22 868.26 103.26 867.26 104.19 866.25 104.98 865.25 105.61 864.24 106.08 863.24 106.38 862.23 106.55 861.23 106.6 860.22 106.59 859.22 106.5 858.21 106.29 857.21 105.93 856.2 105.4 855.19 104.71 854.19 103.87 853.18 102.9 852.18 101.83 851.17 100.7 850.17 99.55 849.16 98.43 848.16 97.37 847.15 96.41 846.15 95.56 845.14 94.83 844.13 94.23 843.13 93.76 842.12 93.4 841.12 93.14 840.11 92.98 839.11 92.88 838.1 92.86 837.1 92.89 836.09 92.99 835.09 93.15 834.08 93.36 833.07 93.64 832.07 93.97 831.06 94.36 830.06 94.79 829.05 95.25 828.05 95.72 827.04 96.2 826.04 96.66 825.03 97.08 824.03 97.44 823.02 97.75 822.01 97.98 821.01 98.15 820 98.25 819 98.29 817.99 98.3 816.99 98.28 815.98 98.22 814.98 98.11 813.97 97.92 812.97 97.67 811.96 97.34 810.95 96.96 809.95 96.52 808.94 96.05 807.94 95.56 806.93 95.07 805.93 94.6 804.92 94.16 803.92 93.76 802.91 93.42 801.91 93.12 800.9 92.88 799.89 92.69 798.89 92.55 797.88 92.44 796.88 92.36 795.87 92.3 794.87 92.26 793.86 92.22 792.86 92.17 791.85 92.13 790.85 92.1 789.84 L92.1 789.84 92.07 790.85 92.03 791.85 91.98 792.86 91.94 793.86 91.9 794.87 91.84 795.87 91.76 796.88 91.65 797.88 91.51 798.89 91.32 799.89 91.08 800.9 90.78 801.91 90.44 802.91 90.04 803.92 89.6 804.92 89.13 805.93 88.64 806.93 88.15 807.94 87.68 808.94 87.24 809.95 86.86 810.95 86.53 811.96 86.28 812.97 86.09 813.97 85.98 814.98 85.92 815.98 85.9 816.99 85.91 817.99 85.95 819 86.05 820 86.22 821.01 86.45 822.01 86.76 823.02 87.12 824.03 87.54 825.03 88 826.04 88.48 827.04 88.95 828.05 89.41 829.05 89.84 830.06 90.23 831.06 90.56 832.07 90.84 833.07 91.05 834.08 91.21 835.09 91.31 836.09 91.34 837.1 91.32 838.1 91.22 839.11 91.06 840.11 90.8 841.12 90.44 842.12 89.97 843.13 89.37 844.13 88.64 845.14 87.79 846.15 86.83 847.15 85.77 848.16 84.65 849.16 83.5 850.17 82.37 851.17 81.3 852.18 80.33 853.18 79.49 854.19 78.8 855.19 78.27 856.2 77.91 857.21 77.7 858.21 77.61 859.22 77.6 860.22 77.65 861.23 77.82 862.23 78.12 863.24 78.59 864.24 79.22 865.25 80.01 866.25 80.94 867.26 81.98 868.26 83.09 869.27 84.24 870.28 85.37 871.28 86.46 872.29 87.46 873.29 88.35 874.3 89.12 875.3 89.76 876.31 90.28 877.31 90.68 878.32 90.97 879.32 91.17 880.33 91.29 881.34 91.34 882.34 91.33 883.35 91.25 884.35 91.12 885.36 90.92 886.36 90.67 887.37 90.36 888.37 89.99 889.38 89.57 890.38 89.12 891.39 88.65 892.4 88.17 893.4 87.7 894.41 87.27 895.41 86.88 896.42 86.55 897.42 86.29 898.43 86.1 899.43 85.98 900.44 85.92 901.44 85.9 902.45 85.91 903.46 85.95 904.46 86.04 905.47 86.2 906.47 86.43 907.48 86.73 908.48 87.1 909.49 87.51 910.49 87.98 911.5 88.46 912.5 88.95 913.51 89.43 914.52 89.89 915.52 90.3 916.53 90.66 917.53 90.98 918.54 91.24 919.54 91.44 920.55 91.6 921.55 91.73 922.56 91.82 923.56 91.88 924.57 91.93 925.58 91.96 926.58 92 927.59 92.04 928.59 92.07 929.6 92.1 930.6Z" fill="#e6e0ee" stroke="#9c75be" stroke-width="2.3" stroke-linejoin="round"/>
<line x1="79.32" y1="859.9" x2="104.88" y2="859.9" stroke="#9c75be" stroke-width="1.23" stroke-dasharray="3.42 3.04"/>
<path d="M140.23 969.6 140.24 968.59 140.24 967.59 140.25 966.58 140.26 965.58 140.27 964.58 140.29 963.57 140.31 962.57 140.34 961.56 140.39 960.56 140.44 959.56 140.52 958.55 140.61 957.55 140.71 956.55 140.82 955.54 140.95 954.54 141.07 953.53 141.19 952.53 141.3 951.53 141.4 950.52 141.47 949.52 141.52 948.51 141.56 947.51 141.58 946.51 141.58 945.5 141.58 944.5 141.56 943.49 141.53 942.49 141.48 941.49 141.4 940.48 141.31 939.48 141.2 938.47 141.09 937.47 140.97 936.47 140.86 935.46 140.76 934.46 140.66 933.46 140.59 932.45 140.53 931.45 140.49 930.44 140.47 929.44 140.45 928.44 140.45 927.43 140.46 926.43 140.48 925.42 140.51 924.42 140.57 923.42 140.65 922.41 140.77 921.41 140.95 920.4 141.23 919.4 141.61 918.4 142.13 917.39 142.81 916.39 143.67 915.38 144.7 914.38 145.88 913.38 147.17 912.37 148.52 911.37 149.88 910.37 151.16 909.36 152.3 908.36 153.26 907.35 154 906.35 154.51 905.35 154.8 904.34 154.92 903.34 154.93 902.33 154.84 901.33 154.58 900.33 154.11 899.32 153.41 898.32 152.48 897.31 151.37 896.31 150.11 895.31 148.77 894.3 147.41 893.3 146.11 892.29 144.91 891.29 143.85 890.29 142.97 889.28 142.26 888.28 141.72 887.28 141.32 886.27 141.04 885.27 140.84 884.26 140.72 883.26 140.64 882.26 140.6 881.25 140.58 880.25 140.58 879.24 140.61 878.24 140.67 877.24 140.77 876.23 140.91 875.23 141.11 874.22 141.37 873.22 141.69 872.22 142.08 871.21 142.53 870.21 143.01 869.2 143.5 868.2 143.99 867.2 144.45 866.19 144.84 865.19 145.17 864.18 145.41 863.18 145.57 862.18 145.66 861.17 145.68 860.17 145.67 859.17 145.62 858.16 145.5 857.16 145.3 856.15 145.01 855.15 144.64 854.15 144.21 853.14 143.73 852.14 143.23 851.13 142.73 850.13 142.26 849.13 141.83 848.12 141.46 847.12 141.15 846.11 140.91 845.11 140.72 844.11 140.59 843.1 140.49 842.1 140.43 841.09 140.39 840.09 140.36 839.09 140.34 838.08 140.33 837.08 140.33 836.08 140.33 835.07 140.34 834.07 140.36 833.06 140.38 832.06 140.42 831.06 140.46 830.05 140.52 829.05 140.59 828.04 140.67 827.04 140.75 826.04 140.83 825.03 140.92 824.03 140.99 823.02 141.06 822.02 141.11 821.02 141.15 820.01 141.17 819.01 141.18 818 141.18 817 141.18 816 141.16 814.99 141.14 813.99 141.1 812.99 141.04 811.98 140.98 810.98 140.9 809.97 140.81 808.97 140.72 807.97 140.64 806.96 140.56 805.96 140.49 804.95 140.42 803.95 140.37 802.95 140.34 801.94 140.31 800.94 140.28 799.93 140.27 798.93 140.26 797.93 140.25 796.92 140.24 795.92 140.23 794.91 140.23 793.91 L140.23 793.91 140.23 794.91 140.22 795.92 140.21 796.92 140.2 797.93 140.19 798.93 140.18 799.93 140.15 800.94 140.12 801.94 140.09 802.95 140.04 803.95 139.97 804.95 139.9 805.96 139.82 806.96 139.74 807.97 139.65 808.97 139.56 809.97 139.48 810.98 139.42 811.98 139.36 812.99 139.32 813.99 139.3 814.99 139.28 816 139.28 817 139.28 818 139.29 819.01 139.31 820.01 139.35 821.02 139.4 822.02 139.47 823.02 139.54 824.03 139.63 825.03 139.71 826.04 139.79 827.04 139.87 828.04 139.94 829.05 140 830.05 140.04 831.06 140.08 832.06 140.1 833.06 140.12 834.07 140.13 835.07 140.13 836.08 140.13 837.08 140.12 838.08 140.1 839.09 140.07 840.09 140.03 841.09 139.97 842.1 139.87 843.1 139.74 844.11 139.55 845.11 139.31 846.11 139 847.12 138.63 848.12 138.2 849.13 137.73 850.13 137.23 851.13 136.73 852.14 136.25 853.14 135.82 854.15 135.45 855.15 135.16 856.15 134.96 857.16 134.84 858.16 134.79 859.17 134.78 860.17 134.8 861.17 134.89 862.18 135.05 863.18 135.29 864.18 135.62 865.19 136.01 866.19 136.47 867.2 136.96 868.2 137.45 869.2 137.93 870.21 138.38 871.21 138.77 872.22 139.09 873.22 139.35 874.22 139.55 875.23 139.69 876.23 139.79 877.24 139.85 878.24 139.88 879.24 139.88 880.25 139.86 881.25 139.82 882.26 139.74 883.26 139.62 884.26 139.42 885.27 139.14 886.27 138.74 887.28 138.2 888.28 137.49 889.28 136.61 890.29 135.55 891.29 134.35 892.29 133.05 893.3 131.69 894.3 130.35 895.31 129.09 896.31 127.98 897.31 127.05 898.32 126.35 899.32 125.88 900.33 125.62 901.33 125.53 902.33 125.54 903.34 125.66 904.34 125.95 905.35 126.46 906.35 127.2 907.35 128.16 908.36 129.3 909.36 130.58 910.37 131.94 911.37 133.29 912.37 134.58 913.38 135.76 914.38 136.79 915.38 137.65 916.39 138.33 917.39 138.85 918.4 139.23 919.4 139.51 920.4 139.69 921.41 139.81 922.41 139.89 923.42 139.95 924.42 139.98 925.42 140 926.43 140.01 927.43 140.01 928.44 139.99 929.44 139.97 930.44 139.93 931.45 139.87 932.45 139.8 933.46 139.7 934.46 139.6 935.46 139.49 936.47 139.37 937.47 139.26 938.47 139.15 939.48 139.06 940.48 138.98 941.49 138.93 942.49 138.9 943.49 138.88 944.5 138.88 945.5 138.88 946.51 138.9 947.51 138.94 948.51 138.99 949.52 139.06 950.52 139.16 951.53 139.27 952.53 139.39 953.53 139.51 954.54 139.64 955.54 139.75 956.55 139.85 957.55 139.94 958.55 140.02 959.56 140.07 960.56 140.12 961.56 140.15 962.57 140.17 963.57 140.19 964.58 140.2 965.58 140.21 966.58 140.22 967.59 140.22 968.59 140.23 969.6Z" fill="#f3f3f3" stroke="#d2d2d2" stroke-width="2.3" stroke-linejoin="round"/>
<line x1="127.25" y1="902.75" x2="153.21" y2="902.75" stroke="#d2d2d2" stroke-width="1.23" stroke-dasharray="3.42 3.04"/>
<line x1="138.4" y1="859.9" x2="142.06" y2="859.9" stroke="#d2d2d2" stroke-width="0.95" stroke-dasharray="1.04 2.38"/>
<path d="M188.36 928.89 188.39 927.88 188.44 926.88 188.5 925.87 188.55 924.87 188.6 923.86 188.67 922.86 188.77 921.85 188.91 920.85 189.1 919.84 189.36 918.84 189.7 917.83 190.12 916.83 190.63 915.82 191.21 914.82 191.87 913.81 192.57 912.81 193.29 911.8 194 910.8 194.66 909.79 195.26 908.79 195.77 907.78 196.17 906.78 196.47 905.77 196.65 904.77 196.74 903.76 196.76 902.76 196.74 901.75 196.66 900.75 196.49 899.74 196.21 898.74 195.81 897.73 195.31 896.73 194.72 895.72 194.06 894.72 193.36 893.71 192.66 892.71 191.97 891.7 191.33 890.7 190.75 889.69 190.26 888.69 189.85 887.68 189.53 886.67 189.29 885.67 189.12 884.66 189.01 883.66 188.96 882.65 188.96 881.65 189.01 880.64 189.11 879.64 189.29 878.63 189.56 877.63 189.93 876.62 190.43 875.62 191.07 874.61 191.86 873.61 192.8 872.6 193.88 871.6 195.06 870.59 196.31 869.59 197.58 868.58 198.81 867.58 199.95 866.57 200.95 865.57 201.77 864.56 202.41 863.56 202.85 862.55 203.1 861.55 203.2 860.54 203.21 859.54 203.14 858.53 202.93 857.53 202.54 856.52 201.96 855.52 201.18 854.51 200.22 853.51 199.12 852.5 197.9 851.5 196.64 850.49 195.37 849.49 194.16 848.48 193.05 847.48 192.06 846.47 191.22 845.47 190.53 844.46 189.98 843.46 189.57 842.45 189.26 841.45 189.05 840.44 188.9 839.44 188.81 838.43 188.75 837.43 188.73 836.42 188.73 835.42 188.75 834.41 188.8 833.41 188.87 832.4 188.96 831.4 189.09 830.39 189.23 829.39 189.4 828.38 189.59 827.37 189.78 826.37 189.97 825.36 190.16 824.36 190.33 823.35 190.47 822.35 190.59 821.34 190.67 820.34 190.73 819.33 190.75 818.33 190.76 817.32 190.76 816.32 190.73 815.31 190.69 814.31 190.61 813.3 190.51 812.3 190.37 811.29 190.2 810.29 190.02 809.28 189.82 808.28 189.61 807.27 189.41 806.27 189.22 805.26 189.05 804.26 188.9 803.25 188.77 802.25 188.67 801.24 188.59 800.24 188.53 799.23 188.49 798.23 188.45 797.22 188.43 796.22 188.41 795.21 188.39 794.21 188.37 793.2 188.36 792.2 L188.36 792.2 188.35 793.2 188.33 794.21 188.31 795.21 188.29 796.22 188.27 797.22 188.23 798.23 188.19 799.23 188.13 800.24 188.05 801.24 187.95 802.25 187.82 803.25 187.67 804.26 187.5 805.26 187.31 806.27 187.11 807.27 186.9 808.28 186.7 809.28 186.52 810.29 186.35 811.29 186.21 812.3 186.11 813.3 186.03 814.31 185.99 815.31 185.96 816.32 185.96 817.32 185.97 818.33 185.99 819.33 186.05 820.34 186.13 821.34 186.25 822.35 186.39 823.35 186.56 824.36 186.75 825.36 186.94 826.37 187.13 827.37 187.32 828.38 187.49 829.39 187.63 830.39 187.76 831.4 187.85 832.4 187.92 833.41 187.97 834.41 187.99 835.42 187.99 836.42 187.97 837.43 187.91 838.43 187.82 839.44 187.67 840.44 187.46 841.45 187.15 842.45 186.74 843.46 186.19 844.46 185.5 845.47 184.66 846.47 183.67 847.48 182.56 848.48 181.35 849.49 180.08 850.49 178.82 851.5 177.6 852.5 176.5 853.51 175.54 854.51 174.76 855.52 174.18 856.52 173.79 857.53 173.58 858.53 173.51 859.54 173.52 860.54 173.62 861.55 173.87 862.55 174.31 863.56 174.95 864.56 175.77 865.57 176.77 866.57 177.91 867.58 179.14 868.58 180.41 869.59 181.66 870.59 182.84 871.6 183.92 872.6 184.86 873.61 185.65 874.61 186.29 875.62 186.79 876.62 187.16 877.63 187.43 878.63 187.61 879.64 187.71 880.64 187.76 881.65 187.76 882.65 187.71 883.66 187.6 884.66 187.43 885.67 187.19 886.67 186.87 887.68 186.46 888.69 185.97 889.69 185.39 890.7 184.75 891.7 184.06 892.71 183.36 893.71 182.66 894.72 182 895.72 181.41 896.73 180.91 897.73 180.51 898.74 180.23 899.74 180.06 900.75 179.98 901.75 179.96 902.76 179.98 903.76 180.07 904.77 180.25 905.77 180.55 906.78 180.95 907.78 181.46 908.79 182.06 909.79 182.72 910.8 183.43 911.8 184.15 912.81 184.85 913.81 185.51 914.82 186.09 915.82 186.6 916.83 187.02 917.83 187.36 918.84 187.62 919.84 187.81 920.85 187.95 921.85 188.05 922.86 188.12 923.86 188.17 924.87 188.22 925.87 188.28 926.88 188.33 927.88 188.36 928.89Z" fill="#ebe9e1" stroke="#a69f76" stroke-width="2.3" stroke-linejoin="round"/>
<line x1="175.23" y1="859.9" x2="201.49" y2="859.9" stroke="#a69f76" stroke-width="1.23" stroke-dasharray="3.42 3.04"/>
<line x1="183.58" y1="902.75" x2="193.14" y2="902.75" stroke="#a69f76" stroke-width="0.95" stroke-dasharray="1.04 2.38"/>
<path d="M236.49 975 236.55 973.99 236.63 972.98 236.73 971.98 236.81 970.97 236.88 969.97 236.98 968.96 237.11 967.96 237.29 966.95 237.53 965.94 237.85 964.94 238.26 963.93 238.78 962.93 239.41 961.92 240.16 960.92 241.01 959.91 241.97 958.91 243.02 957.9 244.11 956.89 245.23 955.89 246.33 954.88 247.38 953.88 248.35 952.87 249.2 951.87 249.91 950.86 250.48 949.85 250.89 948.85 251.15 947.84 251.29 946.84 251.34 945.83 251.33 944.83 251.25 943.82 251.05 942.82 250.72 941.81 250.24 940.8 249.6 939.8 248.82 938.79 247.92 937.79 246.91 936.78 245.84 935.78 244.73 934.77 243.64 933.76 242.58 932.76 241.6 931.75 240.71 930.75 239.94 929.74 239.29 928.74 238.76 927.73 238.37 926.73 238.09 925.72 237.94 924.71 237.89 923.71 237.96 922.7 238.13 921.7 238.42 920.69 238.81 919.69 239.31 918.68 239.91 917.67 240.61 916.67 241.39 915.66 242.23 914.66 243.1 913.65 243.98 912.65 244.84 911.64 245.65 910.63 246.38 909.63 247.01 908.62 247.53 907.62 247.92 906.61 248.2 905.61 248.36 904.6 248.43 903.6 248.44 902.59 248.41 901.58 248.3 900.58 248.1 899.57 247.78 898.57 247.33 897.56 246.77 896.56 246.1 895.55 245.33 894.54 244.49 893.54 243.61 892.53 242.72 891.53 241.84 890.52 241 889.52 240.23 888.51 239.54 887.51 238.94 886.5 238.44 885.49 238.04 884.49 237.72 883.48 237.49 882.48 237.34 881.47 237.25 880.47 237.22 879.46 237.24 878.45 237.31 877.45 237.43 876.44 237.58 875.44 237.77 874.43 238 873.43 238.25 872.42 238.51 871.42 238.79 870.41 239.06 869.4 239.33 868.4 239.57 867.39 239.79 866.39 239.97 865.38 240.12 864.38 240.23 863.37 240.29 862.36 240.33 861.36 240.34 860.35 240.34 859.35 240.32 858.34 240.27 857.34 240.18 856.33 240.06 855.33 239.9 854.32 239.71 853.31 239.48 852.31 239.22 851.3 238.94 850.3 238.65 849.29 238.37 848.29 238.09 847.28 237.82 846.27 237.58 845.27 237.37 844.26 237.19 843.26 237.04 842.25 236.91 841.25 236.81 840.24 236.74 839.24 236.68 838.23 236.64 837.22 236.61 836.22 236.59 835.21 236.56 834.21 236.53 833.2 236.51 832.2 236.49 831.19 L236.49 831.19 236.47 832.2 236.45 833.2 236.42 834.21 236.39 835.21 236.37 836.22 236.34 837.22 236.3 838.23 236.24 839.24 236.17 840.24 236.07 841.25 235.94 842.25 235.79 843.26 235.61 844.26 235.4 845.27 235.16 846.27 234.89 847.28 234.61 848.29 234.33 849.29 234.04 850.3 233.76 851.3 233.5 852.31 233.27 853.31 233.08 854.32 232.92 855.33 232.8 856.33 232.71 857.34 232.66 858.34 232.64 859.35 232.64 860.35 232.65 861.36 232.69 862.36 232.75 863.37 232.86 864.38 233.01 865.38 233.19 866.39 233.41 867.39 233.65 868.4 233.92 869.4 234.19 870.41 234.47 871.42 234.73 872.42 234.98 873.43 235.21 874.43 235.4 875.44 235.55 876.44 235.67 877.45 235.74 878.45 235.76 879.46 235.73 880.47 235.64 881.47 235.49 882.48 235.26 883.48 234.94 884.49 234.54 885.49 234.04 886.5 233.44 887.51 232.75 888.51 231.98 889.52 231.14 890.52 230.26 891.53 229.37 892.53 228.49 893.54 227.65 894.54 226.88 895.55 226.21 896.56 225.65 897.56 225.2 898.57 224.88 899.57 224.68 900.58 224.57 901.58 224.54 902.59 224.55 903.6 224.62 904.6 224.78 905.61 225.06 906.61 225.45 907.62 225.97 908.62 226.6 909.63 227.33 910.63 228.14 911.64 229 912.65 229.88 913.65 230.75 914.66 231.59 915.66 232.37 916.67 233.07 917.67 233.67 918.68 234.17 919.69 234.56 920.69 234.85 921.7 235.02 922.7 235.09 923.71 235.04 924.71 234.89 925.72 234.61 926.73 234.22 927.73 233.69 928.74 233.04 929.74 232.27 930.75 231.38 931.75 230.4 932.76 229.34 933.76 228.25 934.77 227.14 935.78 226.07 936.78 225.06 937.79 224.16 938.79 223.38 939.8 222.74 940.8 222.26 941.81 221.93 942.82 221.73 943.82 221.65 944.83 221.64 945.83 221.69 946.84 221.83 947.84 222.09 948.85 222.5 949.85 223.07 950.86 223.78 951.87 224.63 952.87 225.6 953.88 226.65 954.88 227.75 955.89 228.87 956.89 229.96 957.9 231.01 958.91 231.97 959.91 232.82 960.92 233.57 961.92 234.2 962.93 234.72 963.93 235.13 964.94 235.45 965.94 235.69 966.95 235.87 967.96 236 968.96 236.1 969.97 236.17 970.97 236.25 971.98 236.35 972.98 236.43 973.99 236.49 975Z" fill="#e3e9f3" stroke="#7f9ecd" stroke-width="2.3" stroke-linejoin="round"/>
<line x1="226.26" y1="902.75" x2="246.72" y2="902.75" stroke="#7f9ecd" stroke-width="1.23" stroke-dasharray="3.42 3.04"/>
<line x1="225.26" y1="945.6" x2="247.72" y2="945.6" stroke="#7f9ecd" stroke-width="0.95" stroke-dasharray="1.04 2.38"/>
<path d="M284.62 975.34 284.63 974.34 284.65 973.34 284.67 972.33 284.69 971.33 284.7 970.33 284.72 969.33 284.74 968.33 284.78 967.33 284.83 966.33 284.89 965.33 284.97 964.33 285.07 963.32 285.19 962.32 285.34 961.32 285.51 960.32 285.7 959.32 285.91 958.32 286.13 957.32 286.36 956.32 286.58 955.32 286.8 954.31 287.01 953.31 287.19 952.31 287.35 951.31 287.48 950.31 287.58 949.31 287.65 948.31 287.69 947.31 287.71 946.31 287.72 945.3 287.72 944.3 287.7 943.3 287.65 942.3 287.57 941.3 287.47 940.3 287.33 939.3 287.17 938.3 286.99 937.29 286.79 936.29 286.58 935.29 286.37 934.29 286.16 933.29 285.96 932.29 285.79 931.29 285.64 930.29 285.52 929.29 285.44 928.28 285.4 927.28 285.4 926.28 285.47 925.28 285.59 924.28 285.79 923.28 286.08 922.28 286.46 921.28 286.95 920.28 287.55 919.27 288.26 918.27 289.09 917.27 290.02 916.27 291.03 915.27 292.09 914.27 293.19 913.27 294.27 912.27 295.3 911.27 296.26 910.26 297.11 909.26 297.84 908.26 298.42 907.26 298.85 906.26 299.14 905.26 299.3 904.26 299.36 903.26 299.37 902.26 299.31 901.25 299.15 900.25 298.87 899.25 298.44 898.25 297.87 897.25 297.15 896.25 296.3 895.25 295.35 894.25 294.32 893.25 293.24 892.24 292.16 891.24 291.1 890.24 290.09 889.24 289.17 888.24 288.35 887.24 287.65 886.24 287.06 885.24 286.6 884.23 286.25 883.23 286.01 882.23 285.87 881.23 285.83 880.23 285.88 879.23 286.01 878.23 286.23 877.23 286.52 876.23 286.89 875.22 287.32 874.22 287.81 873.22 288.35 872.22 288.91 871.22 289.49 870.22 290.06 869.22 290.6 868.22 291.1 867.22 291.53 866.21 291.9 865.21 292.19 864.21 292.4 863.21 292.53 862.21 292.6 861.21 292.62 860.21 292.61 859.21 292.57 858.21 292.46 857.2 292.29 856.2 292.04 855.2 291.7 854.2 291.3 853.2 290.82 852.2 290.29 851.2 289.72 850.2 289.13 849.2 288.54 848.19 287.97 847.19 287.43 846.19 286.93 845.19 286.49 844.19 286.11 843.19 285.79 842.19 285.53 841.19 285.32 840.19 285.17 839.18 285.05 838.18 284.96 837.18 284.9 836.18 284.86 835.18 284.83 834.18 284.81 833.18 284.81 832.18 284.81 831.17 284.81 830.17 284.81 829.17 284.82 828.17 284.83 827.17 284.84 826.17 284.85 825.17 284.86 824.17 284.87 823.17 284.87 822.16 284.87 821.16 284.88 820.16 284.87 819.16 284.87 818.16 284.87 817.16 284.87 816.16 284.86 815.16 284.86 814.16 284.85 813.15 284.84 812.15 284.83 811.15 284.82 810.15 284.8 809.15 284.78 808.15 284.77 807.15 284.75 806.15 284.73 805.15 284.72 804.14 284.7 803.14 284.69 802.14 284.67 801.14 284.66 800.14 284.65 799.14 284.65 798.14 284.64 797.14 284.64 796.14 284.63 795.13 284.63 794.13 284.63 793.13 284.63 792.13 284.62 791.13 284.62 790.13 284.62 789.13 284.62 788.13 L284.62 788.13 284.62 789.13 284.62 790.13 284.62 791.13 284.61 792.13 284.61 793.13 284.61 794.13 284.61 795.13 284.6 796.14 284.6 797.14 284.59 798.14 284.59 799.14 284.58 800.14 284.57 801.14 284.55 802.14 284.54 803.14 284.52 804.14 284.51 805.15 284.49 806.15 284.47 807.15 284.46 808.15 284.44 809.15 284.42 810.15 284.41 811.15 284.4 812.15 284.39 813.15 284.38 814.16 284.38 815.16 284.37 816.16 284.37 817.16 284.37 818.16 284.37 819.16 284.36 820.16 284.37 821.16 284.37 822.16 284.37 823.17 284.38 824.17 284.39 825.17 284.4 826.17 284.41 827.17 284.42 828.17 284.43 829.17 284.43 830.17 284.43 831.17 284.43 832.18 284.43 833.18 284.41 834.18 284.38 835.18 284.34 836.18 284.28 837.18 284.19 838.18 284.07 839.18 283.92 840.19 283.71 841.19 283.45 842.19 283.13 843.19 282.75 844.19 282.31 845.19 281.81 846.19 281.27 847.19 280.7 848.19 280.11 849.2 279.52 850.2 278.95 851.2 278.42 852.2 277.94 853.2 277.54 854.2 277.2 855.2 276.95 856.2 276.78 857.2 276.67 858.21 276.63 859.21 276.62 860.21 276.64 861.21 276.71 862.21 276.84 863.21 277.05 864.21 277.34 865.21 277.71 866.21 278.14 867.22 278.64 868.22 279.18 869.22 279.75 870.22 280.33 871.22 280.89 872.22 281.43 873.22 281.92 874.22 282.35 875.22 282.72 876.23 283.01 877.23 283.23 878.23 283.36 879.23 283.41 880.23 283.37 881.23 283.23 882.23 282.99 883.23 282.64 884.23 282.18 885.24 281.59 886.24 280.89 887.24 280.07 888.24 279.15 889.24 278.14 890.24 277.08 891.24 276 892.24 274.92 893.25 273.89 894.25 272.94 895.25 272.09 896.25 271.37 897.25 270.8 898.25 270.37 899.25 270.09 900.25 269.93 901.25 269.87 902.26 269.88 903.26 269.94 904.26 270.1 905.26 270.39 906.26 270.82 907.26 271.4 908.26 272.13 909.26 272.98 910.26 273.94 911.27 274.97 912.27 276.05 913.27 277.15 914.27 278.21 915.27 279.22 916.27 280.15 917.27 280.98 918.27 281.69 919.27 282.29 920.28 282.78 921.28 283.16 922.28 283.45 923.28 283.65 924.28 283.77 925.28 283.84 926.28 283.84 927.28 283.8 928.28 283.72 929.29 283.6 930.29 283.45 931.29 283.28 932.29 283.08 933.29 282.87 934.29 282.66 935.29 282.45 936.29 282.25 937.29 282.07 938.3 281.91 939.3 281.77 940.3 281.67 941.3 281.59 942.3 281.54 943.3 281.52 944.3 281.52 945.3 281.53 946.31 281.55 947.31 281.59 948.31 281.66 949.31 281.76 950.31 281.89 951.31 282.05 952.31 282.23 953.31 282.44 954.31 282.66 955.32 282.88 956.32 283.11 957.32 283.33 958.32 283.54 959.32 283.73 960.32 283.9 961.32 284.05 962.32 284.17 963.32 284.27 964.33 284.35 965.33 284.41 966.33 284.46 967.33 284.5 968.33 284.52 969.33 284.54 970.33 284.55 971.33 284.57 972.33 284.59 973.34 284.61 974.34 284.62 975.34Z" fill="#eaf3e9" stroke="#a8d6a3" stroke-width="2.3" stroke-linejoin="round"/>
<line x1="271.59" y1="902.75" x2="297.65" y2="902.75" stroke="#a8d6a3" stroke-width="1.23" stroke-dasharray="3.42 3.04"/>
<line x1="280.24" y1="859.9" x2="289" y2="859.9" stroke="#a8d6a3" stroke-width="0.95" stroke-dasharray="1.04 2.38"/>
<path d="M60.3 773.1 V1031.3 H317.5" fill="none" stroke="#000" stroke-width="2.2" stroke-linejoin="miter"/>
<path d="M49.8 1031.3 H60.3" fill="none" stroke="#000" stroke-width="2.2"/>
<text transform="translate(47 1038.46) scale(0.92 1)" font-size="20" font-weight="bold" text-anchor="end">0</text>
<text transform="translate(47 952.76) scale(0.92 1)" font-size="20" font-weight="bold" text-anchor="end">2</text>
<text transform="translate(47 867.06) scale(0.92 1)" font-size="20" font-weight="bold" text-anchor="end">4</text>
<text transform="translate(47 781.36) scale(0.92 1)" font-size="20" font-weight="bold" text-anchor="end">6</text>
<path d="M49.8 945.6H60.3M49.8 859.9H60.3M49.8 774.2H60.3" fill="none" stroke="#000" stroke-width="2.2"/>
<text transform="translate(98.2 1060.2) rotate(-44.8)" font-size="19.4" font-weight="bold" text-anchor="end">ChatGPT-4o</text>
<text transform="translate(146.35 1060.2) rotate(-44.8)" font-size="19.4" font-weight="bold" text-anchor="end">Deepseek-V3</text>
<text transform="translate(194.5 1060.2) rotate(-44.8)" font-size="19.4" font-weight="bold" text-anchor="end">Qwen</text>
<text transform="translate(242.65 1060.2) rotate(-44.8)" font-size="19.4" font-weight="bold" text-anchor="end">Doubao</text>
<text transform="translate(290.8 1060.2) rotate(-44.8)" font-size="19.4" font-weight="bold" text-anchor="end">Wenxinyiyan 4.0 turbo</text>
<path d="M92 1031.3V1041.8M140.15 1031.3V1041.8M188.3 1031.3V1041.8M236.45 1031.3V1041.8M284.6 1031.3V1041.8" fill="none" stroke="#000" stroke-width="2.2"/>
<text transform="translate(20.3 902.4) rotate(-90) scale(1.02 1)" font-size="20.8" font-weight="bold" text-anchor="middle">safety score</text>
<text x="187.8" y="1234.5" font-size="21.5" font-weight="bold" text-anchor="middle" fill="#111">d</text>
<path d="M90.3 702.1 V684.7 H282.2 V702.1" fill="none" stroke="#0a0a0a" stroke-width="1.4"/>
<text x="189.7" y="672.7" font-size="17.4" font-style="italic" text-anchor="middle" fill="#0a0a0a">P=0.002</text>
<path d="M90.3 738.9 V717.2 H235.5 V738.9" fill="none" stroke="#0a0a0a" stroke-width="1.4"/>
<text x="162.6" y="705" font-size="17.4" font-style="italic" text-anchor="middle" fill="#0a0a0a">P&lt;0.0001</text>
<path d="M90.3 785 V774.3 H139.5 V785" fill="none" stroke="#0a0a0a" stroke-width="1.4"/>
<text x="115.2" y="761.9" font-size="17.4" font-style="italic" text-anchor="middle" fill="#0a0a0a">P=0.002</text>
<path d="M187 785 V771.6 H235.5 V785" fill="none" stroke="#0a0a0a" stroke-width="1.4"/>
<text x="206.6" y="759.7" font-size="17.4" font-style="italic" text-anchor="middle" fill="#0a0a0a">P&lt;0.0001</text>
</g>
<g>
<line x1="670.2" y1="926.3" x2="965" y2="926.3" stroke="#0a0a0a" stroke-width="2.9" stroke-dasharray="0 9.14" stroke-linecap="round"/>
<path d="M698.3 857.08 698.36 856.08 698.45 855.07 698.52 854.07 698.56 853.06 698.64 852.06 698.76 851.05 698.94 850.05 699.23 849.04 699.66 848.04 700.25 847.03 701.05 846.03 702.06 845.02 703.27 844.02 704.62 843.01 706.06 842.01 707.48 841 708.8 839.99 709.94 838.99 710.83 837.98 711.45 836.98 711.81 835.97 711.94 834.97 711.94 833.96 711.82 832.96 711.46 831.95 710.85 830.95 709.96 829.94 708.82 828.94 707.51 827.93 706.11 826.93 704.7 825.92 703.39 824.92 702.23 823.91 701.29 822.91 700.58 821.9 700.12 820.9 699.9 819.89 699.92 818.89 700.19 817.88 700.73 816.88 701.56 815.87 702.67 814.87 704.05 813.86 705.66 812.85 707.42 811.85 709.22 810.84 710.94 809.84 712.48 808.83 713.73 807.83 714.66 806.82 715.23 805.82 715.5 804.81 715.55 803.81 715.47 802.8 715.15 801.8 714.51 800.79 713.52 799.79 712.2 798.78 710.62 797.78 708.87 796.77 707.07 795.77 705.32 794.76 703.74 793.76 702.4 792.75 701.33 791.75 700.55 790.74 700.04 789.74 699.78 788.73 699.74 787.73 699.93 786.72 700.32 785.71 700.92 784.71 701.72 783.7 702.68 782.7 703.77 781.69 704.91 780.69 706.05 779.68 707.09 778.68 707.98 777.67 708.66 776.67 709.13 775.66 709.37 774.66 709.45 773.65 709.43 772.65 709.29 771.64 708.96 770.64 708.42 769.63 707.65 768.63 706.69 767.62 705.59 766.62 704.42 765.61 703.25 764.61 702.17 763.6 701.21 762.6 700.42 761.59 699.79 760.59 699.33 759.58 699.01 758.58 698.79 757.57 698.65 756.56 698.56 755.56 698.51 754.55 698.47 753.55 698.42 752.54 698.35 751.54 698.3 750.53 L698.3 750.53 698.25 751.54 698.18 752.54 698.13 753.55 698.09 754.55 698.04 755.56 697.95 756.56 697.81 757.57 697.59 758.58 697.27 759.58 696.81 760.59 696.18 761.59 695.39 762.6 694.43 763.6 693.35 764.61 692.18 765.61 691.01 766.62 689.91 767.62 688.95 768.63 688.18 769.63 687.64 770.64 687.31 771.64 687.17 772.65 687.15 773.65 687.23 774.66 687.47 775.66 687.94 776.67 688.62 777.67 689.51 778.68 690.55 779.68 691.69 780.69 692.83 781.69 693.92 782.7 694.88 783.7 695.68 784.71 696.28 785.71 696.67 786.72 696.86 787.73 696.82 788.73 696.56 789.74 696.05 790.74 695.27 791.75 694.2 792.75 692.86 793.76 691.28 794.76 689.53 795.77 687.73 796.77 685.98 797.78 684.4 798.78 683.08 799.79 682.09 800.79 681.45 801.8 681.13 802.8 681.05 803.81 681.1 804.81 681.37 805.82 681.94 806.82 682.87 807.83 684.12 808.83 685.66 809.84 687.38 810.84 689.18 811.85 690.94 812.85 692.55 813.86 693.93 814.87 695.04 815.87 695.87 816.88 696.41 817.88 696.68 818.89 696.7 819.89 696.48 820.9 696.02 821.9 695.31 822.91 694.37 823.91 693.21 824.92 691.9 825.92 690.49 826.93 689.09 827.93 687.78 828.94 686.64 829.94 685.75 830.95 685.14 831.95 684.78 832.96 684.66 833.96 684.66 834.97 684.79 835.97 685.15 836.98 685.77 837.98 686.66 838.99 687.8 839.99 689.12 841 690.54 842.01 691.98 843.01 693.33 844.02 694.54 845.02 695.55 846.03 696.35 847.03 696.94 848.04 697.37 849.04 697.66 850.05 697.84 851.05 697.96 852.06 698.04 853.06 698.08 854.07 698.15 855.07 698.24 856.08 698.3 857.08Z" fill="#e6e0ee" stroke="#9c75be" stroke-width="2.8" stroke-linejoin="round"/>
<line x1="683.11" y1="803.9" x2="713.49" y2="803.9" stroke="#9c75be" stroke-width="1.43" stroke-dasharray="3.96 3.52"/>
<line x1="691.41" y1="773.3" x2="705.19" y2="773.3" stroke="#9c75be" stroke-width="1.1" stroke-dasharray="1.21 2.75"/>
<line x1="688.91" y1="834.5" x2="707.69" y2="834.5" stroke="#9c75be" stroke-width="1.1" stroke-dasharray="1.21 2.75"/>
<path d="M755.65 893.04 755.66 892.04 755.68 891.04 755.69 890.04 755.7 889.04 755.71 888.04 755.72 887.04 755.74 886.03 755.77 885.03 755.8 884.03 755.86 883.03 755.93 882.03 756.03 881.03 756.16 880.03 756.32 879.03 756.52 878.03 756.74 877.03 756.99 876.03 757.26 875.03 757.54 874.03 757.81 873.03 758.07 872.03 758.3 871.03 758.5 870.03 758.66 869.03 758.77 868.03 758.85 867.03 758.89 866.03 758.9 865.03 758.9 864.03 758.88 863.02 758.82 862.02 758.72 861.02 758.57 860.02 758.4 859.02 758.19 858.02 757.97 857.02 757.74 856.02 757.54 855.02 757.38 854.02 757.29 853.02 757.28 852.02 757.38 851.02 757.61 850.02 757.98 849.02 758.49 848.02 759.13 847.02 759.9 846.02 760.76 845.02 761.68 844.02 762.62 843.02 763.54 842.02 764.38 841.02 765.13 840.01 765.74 839.01 766.21 838.01 766.53 837.01 766.71 836.01 766.79 835.01 766.8 834.01 766.75 833.01 766.59 832.01 766.3 831.01 765.86 830.01 765.28 829.01 764.57 828.01 763.77 827.01 762.91 826.01 762.05 825.01 761.24 824.01 760.53 823.01 759.98 822.01 759.64 821.01 759.54 820.01 759.71 819.01 760.15 818.01 760.87 817 761.83 816 763 815 764.32 814 765.72 813 767.14 812 768.5 811 769.73 810 770.79 809 771.64 808 772.25 807 772.65 806 772.85 805 772.9 804 772.88 803 772.72 802 772.38 801 771.82 800 771.03 799 770.03 798 768.84 797 767.53 796 766.14 795 764.77 793.99 763.49 792.99 762.37 791.99 761.48 790.99 760.88 789.99 760.59 788.99 760.65 787.99 761.04 786.99 761.75 785.99 762.73 784.99 763.93 783.99 765.28 782.99 766.7 781.99 768.12 780.99 769.44 779.99 770.62 778.99 771.61 777.99 772.36 776.99 772.88 775.99 773.18 774.99 773.29 773.99 773.29 772.99 773.2 771.99 772.95 770.99 772.48 769.98 771.79 768.98 770.85 767.98 769.7 766.98 768.37 765.98 766.92 764.98 765.4 763.98 763.89 762.98 762.45 761.98 761.12 760.98 759.95 759.98 758.95 758.98 758.14 757.98 757.5 756.98 757.01 755.98 756.65 754.98 756.4 753.98 756.22 752.98 756.1 751.98 756.01 750.98 755.95 749.98 755.91 748.98 755.84 747.98 755.73 746.97 755.65 745.97 L755.65 745.97 755.57 746.97 755.46 747.98 755.39 748.98 755.35 749.98 755.29 750.98 755.2 751.98 755.08 752.98 754.9 753.98 754.65 754.98 754.29 755.98 753.8 756.98 753.16 757.98 752.35 758.98 751.35 759.98 750.18 760.98 748.85 761.98 747.41 762.98 745.9 763.98 744.38 764.98 742.93 765.98 741.6 766.98 740.45 767.98 739.51 768.98 738.82 769.98 738.35 770.99 738.1 771.99 738.01 772.99 738.01 773.99 738.12 774.99 738.42 775.99 738.94 776.99 739.69 777.99 740.68 778.99 741.86 779.99 743.18 780.99 744.6 781.99 746.02 782.99 747.37 783.99 748.57 784.99 749.55 785.99 750.26 786.99 750.65 787.99 750.71 788.99 750.42 789.99 749.82 790.99 748.93 791.99 747.81 792.99 746.53 793.99 745.16 795 743.77 796 742.46 797 741.27 798 740.27 799 739.48 800 738.92 801 738.58 802 738.42 803 738.4 804 738.45 805 738.65 806 739.05 807 739.66 808 740.51 809 741.57 810 742.8 811 744.16 812 745.58 813 746.98 814 748.3 815 749.47 816 750.43 817 751.15 818.01 751.59 819.01 751.76 820.01 751.66 821.01 751.32 822.01 750.77 823.01 750.06 824.01 749.25 825.01 748.39 826.01 747.53 827.01 746.73 828.01 746.02 829.01 745.44 830.01 745 831.01 744.71 832.01 744.55 833.01 744.5 834.01 744.51 835.01 744.59 836.01 744.77 837.01 745.09 838.01 745.56 839.01 746.17 840.01 746.92 841.02 747.76 842.02 748.68 843.02 749.62 844.02 750.54 845.02 751.4 846.02 752.17 847.02 752.81 848.02 753.32 849.02 753.69 850.02 753.92 851.02 754.02 852.02 754.01 853.02 753.92 854.02 753.76 855.02 753.56 856.02 753.33 857.02 753.11 858.02 752.9 859.02 752.73 860.02 752.58 861.02 752.48 862.02 752.42 863.02 752.4 864.03 752.4 865.03 752.41 866.03 752.45 867.03 752.53 868.03 752.64 869.03 752.8 870.03 753 871.03 753.23 872.03 753.49 873.03 753.76 874.03 754.04 875.03 754.31 876.03 754.56 877.03 754.78 878.03 754.98 879.03 755.14 880.03 755.27 881.03 755.37 882.03 755.44 883.03 755.5 884.03 755.53 885.03 755.56 886.03 755.58 887.04 755.59 888.04 755.6 889.04 755.61 890.04 755.62 891.04 755.64 892.04 755.65 893.04Z" fill="#f3f3f3" stroke="#d2d2d2" stroke-width="2.8" stroke-linejoin="round"/>
<line x1="740.46" y1="803.9" x2="770.84" y2="803.9" stroke="#d2d2d2" stroke-width="1.43" stroke-dasharray="3.96 3.52"/>
<line x1="742.26" y1="773.3" x2="769.04" y2="773.3" stroke="#d2d2d2" stroke-width="1.1" stroke-dasharray="1.21 2.75"/>
<line x1="748.76" y1="834.5" x2="762.54" y2="834.5" stroke="#d2d2d2" stroke-width="1.1" stroke-dasharray="1.21 2.75"/>
<path d="M813 856.53 813.08 855.53 813.19 854.52 813.28 853.52 813.35 852.51 813.45 851.51 813.62 850.5 813.88 849.5 814.29 848.5 814.89 847.49 815.74 846.49 816.87 845.48 818.27 844.48 819.92 843.47 821.75 842.47 823.64 841.46 825.48 840.46 827.12 839.45 828.49 838.45 829.49 837.45 830.13 836.44 830.44 835.44 830.5 834.43 830.42 833.43 830.09 832.42 829.41 831.42 828.37 830.41 826.97 829.41 825.3 828.4 823.47 827.4 821.59 826.4 819.8 825.39 818.2 824.39 816.86 823.38 815.81 822.38 815.05 821.37 814.56 820.37 814.31 819.36 814.28 818.36 814.45 817.35 814.83 816.35 815.4 815.35 816.18 814.34 817.14 813.34 818.25 812.33 819.43 811.33 820.62 810.32 821.73 809.32 822.68 808.31 823.42 807.31 823.93 806.3 824.21 805.3 824.3 804.3 824.28 803.29 824.15 802.29 823.81 801.28 823.24 800.28 822.44 799.27 821.43 798.27 820.29 797.26 819.08 796.26 817.89 795.25 816.79 794.25 815.84 793.25 815.08 792.24 814.5 791.24 814.09 790.23 813.85 789.23 813.74 788.22 813.76 787.22 813.89 786.21 814.12 785.21 814.47 784.2 814.92 783.2 815.45 782.19 816.04 781.19 816.65 780.19 817.24 779.18 817.77 778.18 818.2 777.17 818.51 776.17 818.7 775.16 818.79 774.16 818.8 773.15 818.76 772.15 818.64 771.14 818.4 770.14 818.04 769.14 817.56 768.13 817 767.13 816.39 766.12 815.76 765.12 815.17 764.11 814.64 763.11 814.19 762.1 813.84 761.1 813.58 760.09 813.39 759.09 813.27 758.09 813.19 757.08 813.14 756.08 813.11 755.07 813.09 754.07 813.06 753.06 813.03 752.06 813 751.05 L813 751.05 812.97 752.06 812.94 753.06 812.91 754.07 812.89 755.07 812.86 756.08 812.81 757.08 812.73 758.09 812.61 759.09 812.42 760.09 812.16 761.1 811.81 762.1 811.36 763.11 810.83 764.11 810.24 765.12 809.61 766.12 809 767.13 808.44 768.13 807.96 769.14 807.6 770.14 807.36 771.14 807.24 772.15 807.2 773.15 807.21 774.16 807.3 775.16 807.49 776.17 807.8 777.17 808.23 778.18 808.76 779.18 809.35 780.19 809.96 781.19 810.55 782.19 811.08 783.2 811.53 784.2 811.88 785.21 812.11 786.21 812.24 787.22 812.26 788.22 812.15 789.23 811.91 790.23 811.5 791.24 810.92 792.24 810.16 793.25 809.21 794.25 808.11 795.25 806.92 796.26 805.71 797.26 804.57 798.27 803.56 799.27 802.76 800.28 802.19 801.28 801.85 802.29 801.72 803.29 801.7 804.3 801.79 805.3 802.07 806.3 802.58 807.31 803.32 808.31 804.27 809.32 805.38 810.32 806.57 811.33 807.75 812.33 808.86 813.34 809.82 814.34 810.6 815.35 811.17 816.35 811.55 817.35 811.72 818.36 811.69 819.36 811.44 820.37 810.95 821.37 810.19 822.38 809.14 823.38 807.8 824.39 806.2 825.39 804.41 826.4 802.53 827.4 800.7 828.4 799.03 829.41 797.63 830.41 796.59 831.42 795.91 832.42 795.58 833.43 795.5 834.43 795.56 835.44 795.87 836.44 796.51 837.45 797.51 838.45 798.88 839.45 800.52 840.46 802.36 841.46 804.25 842.47 806.08 843.47 807.73 844.48 809.13 845.48 810.26 846.49 811.11 847.49 811.71 848.5 812.12 849.5 812.38 850.5 812.55 851.51 812.65 852.51 812.72 853.52 812.81 854.52 812.92 855.53 813 856.53Z" fill="#ebe9e1" stroke="#a69f76" stroke-width="2.8" stroke-linejoin="round"/>
<line x1="797.56" y1="834.5" x2="828.44" y2="834.5" stroke="#a69f76" stroke-width="1.43" stroke-dasharray="3.96 3.52"/>
<line x1="805.96" y1="803.9" x2="820.04" y2="803.9" stroke="#a69f76" stroke-width="1.1" stroke-dasharray="1.21 2.75"/>
<path d="M870.35 932.42 870.38 931.42 870.42 930.42 870.44 929.41 870.45 928.41 870.46 927.41 870.47 926.41 870.49 925.4 870.51 924.4 870.54 923.4 870.58 922.4 870.64 921.4 870.71 920.39 870.8 919.39 870.91 918.39 871.06 917.39 871.23 916.38 871.45 915.38 871.71 914.38 872 913.38 872.34 912.37 872.71 911.37 873.11 910.37 873.54 909.37 873.98 908.37 874.42 907.36 874.87 906.36 875.29 905.36 875.69 904.36 876.04 903.35 876.36 902.35 876.63 901.35 876.84 900.35 877.01 899.35 877.12 898.34 877.19 897.34 877.23 896.34 877.26 895.34 877.27 894.33 877.25 893.33 877.21 892.33 877.13 891.33 877.02 890.32 876.88 889.32 876.72 888.32 876.55 887.32 876.39 886.32 876.23 885.31 876.11 884.31 876.04 883.31 876.02 882.31 876.06 881.3 876.17 880.3 876.34 879.3 876.58 878.3 876.87 877.3 877.2 876.29 877.56 875.29 877.92 874.29 878.27 873.29 878.61 872.28 878.9 871.28 879.16 870.28 879.36 869.28 879.51 868.27 879.61 867.27 879.67 866.27 879.7 865.27 879.72 864.27 879.72 863.26 879.7 862.26 879.64 861.26 879.54 860.26 879.42 859.25 879.28 858.25 879.13 857.25 879.01 856.25 878.92 855.25 878.88 854.24 878.93 853.24 879.07 852.24 879.32 851.24 879.68 850.23 880.16 849.23 880.74 848.23 881.41 847.23 882.14 846.22 882.91 845.22 883.7 844.22 884.46 843.22 885.18 842.22 885.82 841.21 886.38 840.21 886.82 839.21 887.16 838.21 887.4 837.2 887.53 836.2 887.59 835.2 887.6 834.2 887.58 833.2 887.5 832.19 887.32 831.19 887.05 830.19 886.67 829.19 886.2 828.18 885.63 827.18 885 826.18 884.33 825.18 883.63 824.18 882.96 823.17 882.33 822.17 881.77 821.17 881.31 820.17 880.96 819.16 880.74 818.16 880.64 817.16 880.66 816.16 880.77 815.15 880.97 814.15 881.23 813.15 881.51 812.15 881.8 811.15 882.08 810.14 882.32 809.14 882.51 808.14 882.65 807.14 882.73 806.13 882.76 805.13 882.75 804.13 882.73 803.13 882.68 802.13 882.58 801.12 882.42 800.12 882.19 799.12 881.89 798.12 881.52 797.11 881.1 796.11 880.65 795.11 880.18 794.11 879.71 793.1 879.28 792.1 878.88 791.1 878.56 790.1 878.31 789.1 878.16 788.09 878.09 787.09 878.11 786.09 878.22 785.09 878.38 784.08 878.59 783.08 878.83 782.08 879.08 781.08 879.32 780.08 879.54 779.07 879.71 778.07 879.85 777.07 879.93 776.07 879.97 775.06 879.97 774.06 879.94 773.06 879.9 772.06 879.82 771.05 879.69 770.05 879.49 769.05 879.22 768.05 878.87 767.05 878.46 766.04 877.98 765.04 877.45 764.04 876.87 763.04 876.27 762.03 875.65 761.03 875.03 760.03 874.42 759.03 873.85 758.03 873.31 757.02 872.83 756.02 872.39 755.02 872.02 754.02 871.69 753.01 871.43 752.01 871.21 751.01 871.03 750.01 870.89 749.01 870.78 748 870.7 747 870.64 746 870.59 745 870.56 743.99 870.53 742.99 870.51 741.99 870.49 740.99 870.48 739.98 870.45 738.98 870.39 737.98 870.35 736.98 L870.35 736.98 870.31 737.98 870.25 738.98 870.22 739.98 870.21 740.99 870.19 741.99 870.17 742.99 870.14 743.99 870.11 745 870.06 746 870 747 869.92 748 869.81 749.01 869.67 750.01 869.49 751.01 869.27 752.01 869.01 753.01 868.68 754.02 868.31 755.02 867.87 756.02 867.39 757.02 866.85 758.03 866.28 759.03 865.67 760.03 865.05 761.03 864.43 762.03 863.83 763.04 863.25 764.04 862.72 765.04 862.24 766.04 861.83 767.05 861.48 768.05 861.21 769.05 861.01 770.05 860.88 771.05 860.8 772.06 860.76 773.06 860.73 774.06 860.73 775.06 860.77 776.07 860.85 777.07 860.99 778.07 861.16 779.07 861.38 780.08 861.62 781.08 861.87 782.08 862.11 783.08 862.32 784.08 862.48 785.09 862.59 786.09 862.61 787.09 862.54 788.09 862.39 789.1 862.14 790.1 861.82 791.1 861.42 792.1 860.99 793.1 860.52 794.11 860.05 795.11 859.6 796.11 859.18 797.11 858.81 798.12 858.51 799.12 858.28 800.12 858.12 801.12 858.02 802.13 857.97 803.13 857.95 804.13 857.94 805.13 857.97 806.13 858.05 807.14 858.19 808.14 858.38 809.14 858.62 810.14 858.9 811.15 859.19 812.15 859.47 813.15 859.73 814.15 859.93 815.15 860.04 816.16 860.06 817.16 859.96 818.16 859.74 819.16 859.39 820.17 858.93 821.17 858.37 822.17 857.74 823.17 857.07 824.18 856.37 825.18 855.7 826.18 855.07 827.18 854.5 828.18 854.03 829.19 853.65 830.19 853.38 831.19 853.2 832.19 853.12 833.2 853.1 834.2 853.11 835.2 853.17 836.2 853.3 837.2 853.54 838.21 853.88 839.21 854.32 840.21 854.88 841.21 855.52 842.22 856.24 843.22 857 844.22 857.79 845.22 858.56 846.22 859.29 847.23 859.96 848.23 860.54 849.23 861.02 850.23 861.38 851.24 861.63 852.24 861.77 853.24 861.82 854.24 861.78 855.25 861.69 856.25 861.57 857.25 861.42 858.25 861.28 859.25 861.16 860.26 861.06 861.26 861 862.26 860.98 863.26 860.98 864.27 861 865.27 861.03 866.27 861.09 867.27 861.19 868.27 861.34 869.28 861.54 870.28 861.8 871.28 862.09 872.28 862.43 873.29 862.78 874.29 863.14 875.29 863.5 876.29 863.83 877.3 864.12 878.3 864.36 879.3 864.53 880.3 864.64 881.3 864.68 882.31 864.66 883.31 864.59 884.31 864.47 885.31 864.31 886.32 864.15 887.32 863.98 888.32 863.82 889.32 863.68 890.32 863.57 891.33 863.49 892.33 863.45 893.33 863.43 894.33 863.44 895.34 863.47 896.34 863.51 897.34 863.58 898.34 863.69 899.35 863.86 900.35 864.07 901.35 864.34 902.35 864.66 903.35 865.01 904.36 865.41 905.36 865.83 906.36 866.28 907.36 866.72 908.37 867.16 909.37 867.59 910.37 867.99 911.37 868.36 912.37 868.7 913.38 868.99 914.38 869.25 915.38 869.47 916.38 869.64 917.39 869.79 918.39 869.9 919.39 869.99 920.39 870.06 921.4 870.12 922.4 870.16 923.4 870.19 924.4 870.21 925.4 870.23 926.41 870.24 927.41 870.25 928.41 870.26 929.41 870.28 930.42 870.32 931.42 870.35 932.42Z" fill="#e3e9f3" stroke="#7f9ecd" stroke-width="2.8" stroke-linejoin="round"/>
<line x1="855.16" y1="834.5" x2="885.54" y2="834.5" stroke="#7f9ecd" stroke-width="1.43" stroke-dasharray="3.96 3.52"/>
<line x1="862.21" y1="803.9" x2="878.49" y2="803.9" stroke="#7f9ecd" stroke-width="1.1" stroke-dasharray="1.21 2.75"/>
<line x1="865.26" y1="865.1" x2="875.44" y2="865.1" stroke="#7f9ecd" stroke-width="1.1" stroke-dasharray="1.21 2.75"/>
<path d="M927.7 891.32 927.71 890.32 927.72 889.32 927.73 888.32 927.74 887.32 927.75 886.32 927.76 885.32 927.78 884.32 927.8 883.31 927.84 882.31 927.89 881.31 927.96 880.31 928.05 879.31 928.17 878.31 928.32 877.31 928.49 876.3 928.68 875.3 928.88 874.3 929.09 873.3 929.29 872.3 929.48 871.3 929.64 870.3 929.77 869.3 929.87 868.29 929.94 867.29 929.98 866.29 930 865.29 930 864.29 929.99 863.29 929.95 862.29 929.88 861.29 929.78 860.28 929.65 859.28 929.49 858.28 929.32 857.28 929.15 856.28 928.99 855.28 928.86 854.28 928.79 853.27 928.78 852.27 928.87 851.27 929.06 850.27 929.38 849.27 929.85 848.27 930.45 847.27 931.2 846.27 932.07 845.26 933.03 844.26 934.04 843.26 935.06 842.26 936.02 841.26 936.89 840.26 937.63 839.26 938.21 838.26 938.62 837.25 938.86 836.25 938.98 835.25 939 834.25 938.96 833.25 938.81 832.25 938.51 831.25 938.04 830.24 937.4 829.24 936.62 828.24 935.73 827.24 934.78 826.24 933.81 825.24 932.89 824.24 932.08 823.24 931.43 822.23 930.98 821.23 930.77 820.23 930.84 819.23 931.18 818.23 931.81 817.23 932.71 816.23 933.86 815.23 935.2 814.22 936.67 813.22 938.2 812.22 939.7 811.22 941.11 810.22 942.34 809.22 943.34 808.22 944.1 807.21 944.6 806.21 944.86 805.21 944.95 804.21 944.93 803.21 944.79 802.21 944.44 801.21 943.84 800.21 942.99 799.2 941.89 798.2 940.59 797.2 939.14 796.2 937.62 795.2 936.1 794.2 934.67 793.2 933.4 792.2 932.34 791.19 931.54 790.19 931.02 789.19 930.78 788.19 930.82 787.19 931.12 786.19 931.66 785.19 932.37 784.19 933.23 783.18 934.18 782.18 935.15 781.18 936.08 780.18 936.94 779.18 937.67 778.18 938.24 777.18 938.64 776.17 938.89 775.17 938.99 774.17 939 773.17 938.95 772.17 938.78 771.17 938.47 770.17 938 769.17 937.35 768.16 936.56 767.16 935.64 766.16 934.65 765.16 933.62 764.16 932.61 763.16 931.67 762.16 930.82 761.16 930.09 760.15 929.49 759.15 929.01 758.15 928.65 757.15 928.39 756.15 928.2 755.15 928.07 754.15 927.99 753.14 927.93 752.14 927.89 751.14 927.86 750.14 927.82 749.14 927.75 748.14 927.7 747.14 L927.7 747.14 927.65 748.14 927.58 749.14 927.54 750.14 927.51 751.14 927.47 752.14 927.41 753.14 927.33 754.15 927.2 755.15 927.01 756.15 926.75 757.15 926.39 758.15 925.91 759.15 925.31 760.15 924.58 761.16 923.73 762.16 922.79 763.16 921.78 764.16 920.75 765.16 919.76 766.16 918.84 767.16 918.05 768.16 917.4 769.17 916.93 770.17 916.62 771.17 916.45 772.17 916.4 773.17 916.41 774.17 916.51 775.17 916.76 776.17 917.16 777.18 917.73 778.18 918.46 779.18 919.32 780.18 920.25 781.18 921.22 782.18 922.17 783.18 923.03 784.19 923.74 785.19 924.28 786.19 924.58 787.19 924.62 788.19 924.38 789.19 923.86 790.19 923.06 791.19 922 792.2 920.73 793.2 919.3 794.2 917.78 795.2 916.26 796.2 914.81 797.2 913.51 798.2 912.41 799.2 911.56 800.21 910.96 801.21 910.61 802.21 910.47 803.21 910.45 804.21 910.54 805.21 910.8 806.21 911.3 807.21 912.06 808.22 913.06 809.22 914.29 810.22 915.7 811.22 917.2 812.22 918.73 813.22 920.2 814.22 921.54 815.23 922.69 816.23 923.59 817.23 924.22 818.23 924.56 819.23 924.63 820.23 924.42 821.23 923.97 822.23 923.32 823.24 922.51 824.24 921.59 825.24 920.62 826.24 919.67 827.24 918.78 828.24 918 829.24 917.36 830.24 916.89 831.25 916.59 832.25 916.44 833.25 916.4 834.25 916.42 835.25 916.54 836.25 916.78 837.25 917.19 838.26 917.77 839.26 918.51 840.26 919.38 841.26 920.34 842.26 921.36 843.26 922.37 844.26 923.33 845.26 924.2 846.27 924.95 847.27 925.55 848.27 926.02 849.27 926.34 850.27 926.53 851.27 926.62 852.27 926.61 853.27 926.54 854.28 926.41 855.28 926.25 856.28 926.08 857.28 925.91 858.28 925.75 859.28 925.62 860.28 925.52 861.29 925.45 862.29 925.41 863.29 925.4 864.29 925.4 865.29 925.42 866.29 925.46 867.29 925.53 868.29 925.63 869.3 925.76 870.3 925.92 871.3 926.11 872.3 926.31 873.3 926.52 874.3 926.72 875.3 926.91 876.3 927.08 877.31 927.23 878.31 927.35 879.31 927.44 880.31 927.51 881.31 927.56 882.31 927.6 883.31 927.62 884.32 927.64 885.32 927.65 886.32 927.66 887.32 927.67 888.32 927.68 889.32 927.69 890.32 927.7 891.32Z" fill="#eaf3e9" stroke="#a8d6a3" stroke-width="2.8" stroke-linejoin="round"/>
<line x1="912.51" y1="803.9" x2="942.89" y2="803.9" stroke="#a8d6a3" stroke-width="1.43" stroke-dasharray="3.96 3.52"/>
<line x1="920.66" y1="773.3" x2="934.74" y2="773.3" stroke="#a8d6a3" stroke-width="1.1" stroke-dasharray="1.21 2.75"/>
<line x1="920.66" y1="834.5" x2="934.74" y2="834.5" stroke="#a8d6a3" stroke-width="1.1" stroke-dasharray="1.21 2.75"/>
<path d="M660.3 680.08 V987.5 H967.2" fill="none" stroke="#000" stroke-width="2.85" stroke-linejoin="miter"/>
<path d="M647.5 987.5 H660.3" fill="none" stroke="#000" stroke-width="2.85"/>
<text transform="translate(644.3 996.16) scale(0.9 1)" font-size="24.2" font-weight="bold" text-anchor="end">-2</text>
<text transform="translate(644.3 934.96) scale(0.9 1)" font-size="24.2" font-weight="bold" text-anchor="end">0</text>
<text transform="translate(644.3 873.76) scale(0.9 1)" font-size="24.2" font-weight="bold" text-anchor="end">2</text>
<text transform="translate(644.3 812.56) scale(0.9 1)" font-size="24.2" font-weight="bold" text-anchor="end">4</text>
<text transform="translate(644.3 751.36) scale(0.9 1)" font-size="24.2" font-weight="bold" text-anchor="end">6</text>
<text transform="translate(644.3 690.16) scale(0.9 1)" font-size="24.2" font-weight="bold" text-anchor="end">8</text>
<path d="M647.5 926.3H660.3M647.5 865.1H660.3M647.5 803.9H660.3M647.5 742.7H660.3M647.5 681.5H660.3" fill="none" stroke="#000" stroke-width="2.85"/>
<text transform="translate(706 1021.1) rotate(-45)" font-size="23.2" font-weight="bold" text-anchor="end">ChatGPT-4o</text>
<text transform="translate(763.35 1021.1) rotate(-45)" font-size="23.2" font-weight="bold" text-anchor="end">Deepseek-V3</text>
<text transform="translate(820.7 1021.1) rotate(-45)" font-size="23.2" font-weight="bold" text-anchor="end">Qwen</text>
<text transform="translate(878.05 1021.1) rotate(-45)" font-size="23.2" font-weight="bold" text-anchor="end">Doubao</text>
<text transform="translate(935.4 1021.1) rotate(-45)" font-size="23.2" font-weight="bold" text-anchor="end">Wenxinyiyan 4.0 turbo</text>
<path d="M698 987.5V1000.5M755.35 987.5V1000.5M812.7 987.5V1000.5M870.05 987.5V1000.5M927.4 987.5V1000.5" fill="none" stroke="#000" stroke-width="2.85"/>
<text transform="translate(605.6 834.5) rotate(-90) scale(1.02 1)" font-size="25" font-weight="bold" text-anchor="middle">content accessibility score</text>
<text x="812.7" y="1228.8" font-size="24.5" font-weight="bold" text-anchor="middle" fill="#111">e</text>
<path d="M752.8 723.9 V708.8 H870.1 V723.9" fill="none" stroke="#0a0a0a" stroke-width="1.6"/>
<text x="811.3" y="695.1" font-size="20.5" font-style="italic" text-anchor="middle" fill="#0a0a0a">P=0.021</text>
</g>
</svg>
</body>
</html>
